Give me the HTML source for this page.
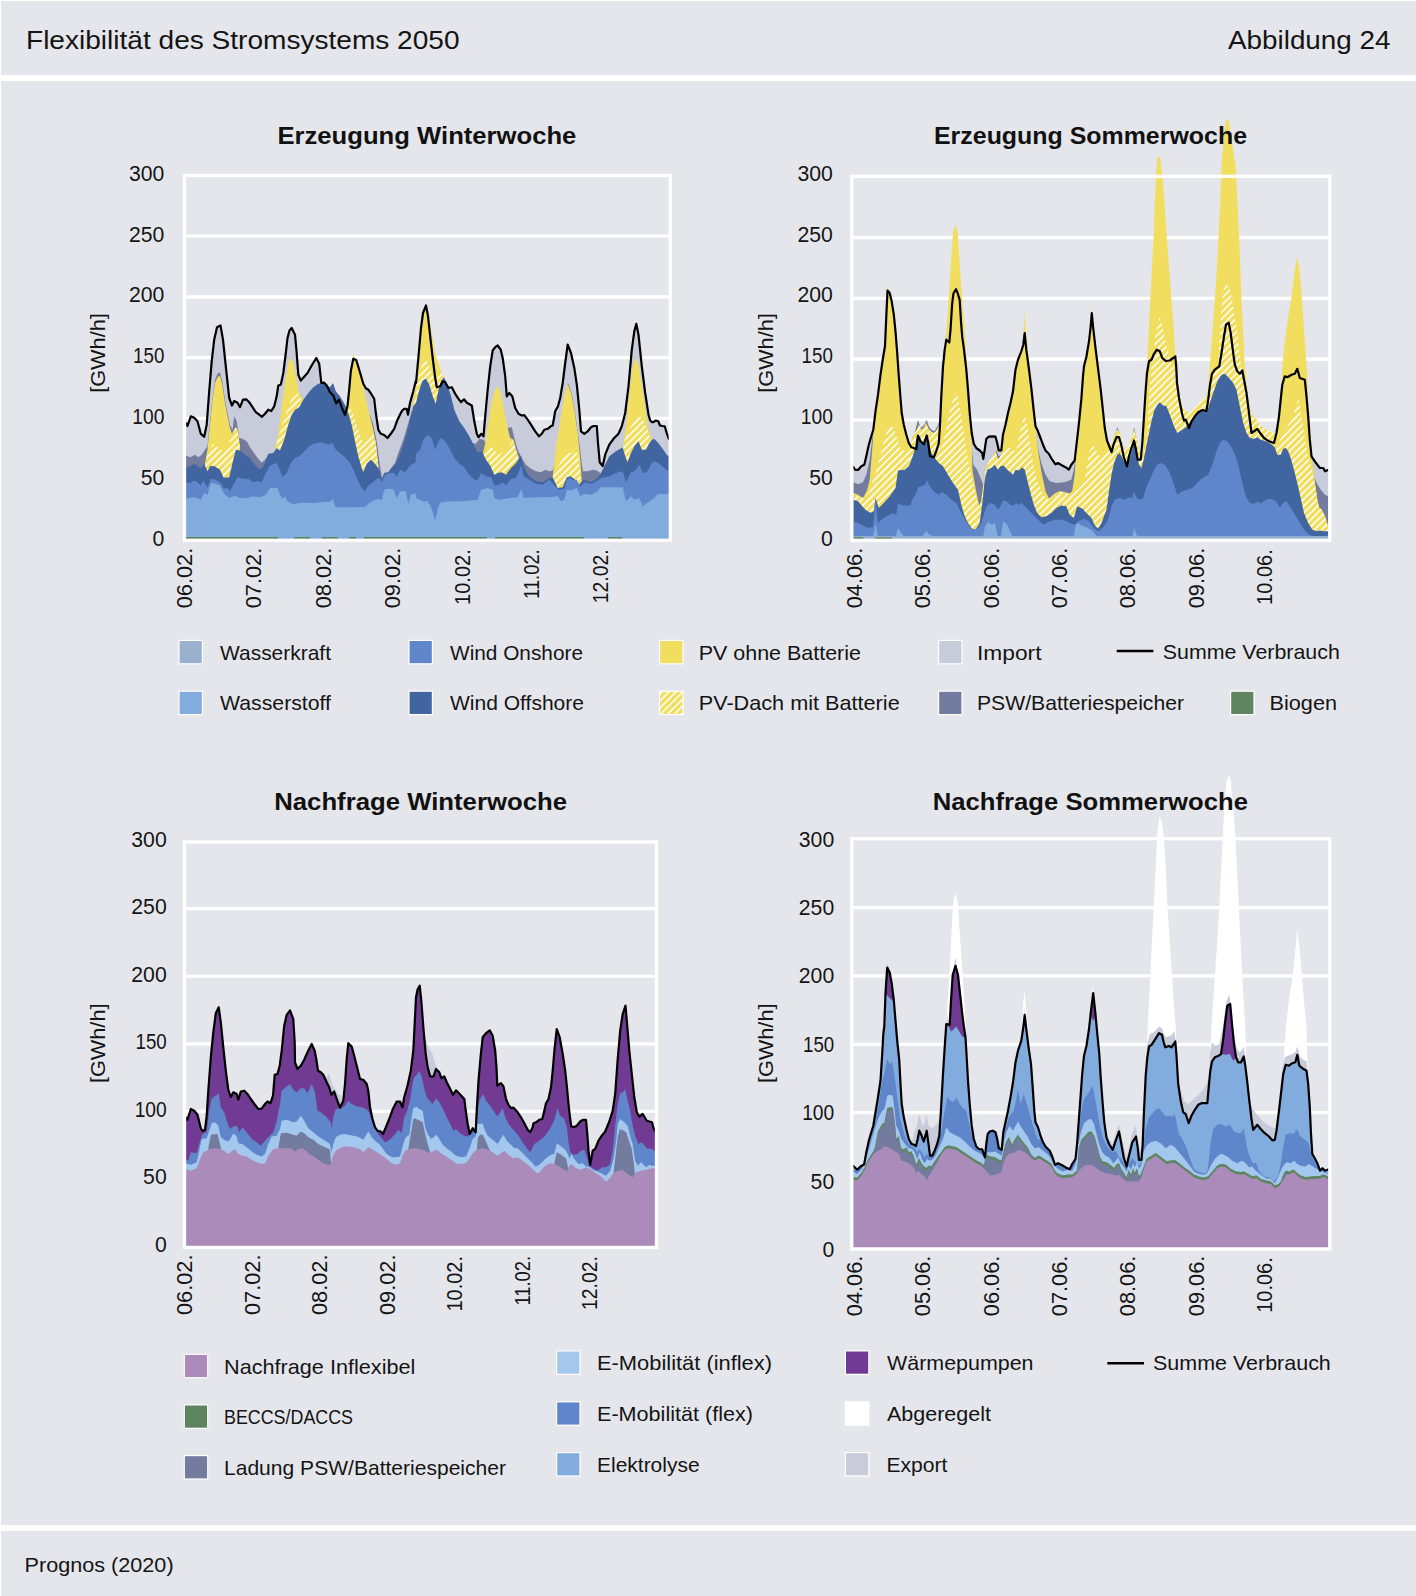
<!DOCTYPE html>
<html lang="de"><head><meta charset="utf-8"><title>Flexibilität des Stromsystems 2050</title>
<style>html,body{margin:0;padding:0;background:#fff}svg{display:block}</style></head>
<body>
<svg width="1416" height="1596" viewBox="0 0 1416 1596" font-family='"Liberation Sans", sans-serif' fill="#141414">
<rect width="1416" height="1596" fill="#fff"/>
<rect x="1" y="1" width="1415" height="74" fill="#e5e6eb"/>
<rect x="1" y="81" width="1415" height="1444" fill="#e5e6eb"/>
<rect x="1" y="1531" width="1415" height="65" fill="#e5e6eb"/>
<line x1="184.5" x2="670.3" y1="236.00" y2="236.00" stroke="#fff" stroke-width="3.2"/>
<line x1="184.5" x2="670.3" y1="296.80" y2="296.80" stroke="#fff" stroke-width="3.2"/>
<line x1="184.5" x2="670.3" y1="357.60" y2="357.60" stroke="#fff" stroke-width="3.2"/>
<line x1="184.5" x2="670.3" y1="418.40" y2="418.40" stroke="#fff" stroke-width="3.2"/>
<line x1="184.5" x2="670.3" y1="479.20" y2="479.20" stroke="#fff" stroke-width="3.2"/>
<path d="M186.0,423.1 187.5,426.0 190.8,416.3 194.2,417.7 197.5,421.3 200.8,433.8 204.2,436.7 206.7,424.7 209.2,391.3 211.7,361.3 214.2,339.7 217.0,327.2 220.5,325.5 223.0,339.7 225.8,366.3 229.2,398.0 232.0,405.5 234.2,401.0 237.5,402.7 240.0,407.2 243.0,399.7 246.3,399.3 249.2,402.2 252.5,407.2 255.8,412.2 259.2,414.7 262.0,416.8 265.0,413.8 268.3,409.7 271.3,411.0 274.2,406.3 276.7,396.3 278.3,385.5 280.8,384.7 283.3,373.0 285.8,353.0 287.5,338.0 289.5,330.5 291.7,328.0 295.0,334.7 296.7,353.0 298.3,374.7 300.8,380.5 304.2,376.7 307.5,373.0 311.7,365.5 316.3,358.0 319.2,363.8 321.3,383.0 324.2,382.7 326.7,385.5 330.0,392.2 333.3,395.5 336.2,403.3 338.8,399.7 341.7,407.2 345.0,414.7 347.5,406.3 349.2,389.7 350.8,371.3 353.3,358.8 356.2,360.0 359.2,369.7 363.3,383.8 365.8,388.3 368.3,389.7 371.7,394.7 374.2,398.8 375.8,413.0 378.3,429.7 380.8,433.8 384.2,435.0 387.5,438.0 390.8,433.8 394.2,428.8 397.5,419.7 401.7,411.3 404.2,408.8 406.7,408.8 408.0,414.7 410.0,403.0 413.3,391.3 415.7,381.3 416.0,383.0 418.5,356.3 421.0,328.0 423.0,313.0 426.0,305.5 428.0,316.3 430.2,336.3 432.7,358.0 435.2,378.0 436.8,387.2 440.2,386.3 442.7,381.3 445.2,382.2 448.5,388.0 451.8,387.2 455.2,393.8 458.5,398.8 461.0,402.2 464.0,399.3 466.8,402.7 471.8,405.5 474.3,421.3 476.8,433.8 478.5,437.2 481.3,433.8 483.5,436.3 485.2,416.3 487.7,389.7 490.2,366.3 492.7,350.5 495.2,347.2 497.7,345.5 500.7,349.7 502.7,358.0 505.2,376.3 506.8,396.3 509.3,393.0 512.3,396.3 515.2,408.0 518.5,413.8 521.8,415.5 524.3,415.2 527.7,419.7 531.0,424.7 535.2,431.3 539.0,436.3 541.8,433.8 544.3,429.7 547.7,428.8 550.7,426.3 552.7,425.5 555.2,411.3 558.0,406.3 560.2,398.0 562.7,383.0 565.2,363.0 567.7,344.7 571.0,353.0 574.3,368.0 576.8,384.7 579.3,409.7 581.0,431.3 584.3,433.8 587.7,431.3 591.0,427.2 593.5,426.0 596.8,426.0 598.0,443.0 599.7,462.2 602.7,466.0 605.2,454.7 609.3,444.7 613.5,438.8 618.5,433.8 621.8,426.3 625.2,413.0 628.5,386.3 631.8,349.7 634.3,331.3 636.3,323.8 638.5,334.7 641.8,366.3 645.2,393.0 648.5,414.7 650.2,420.5 652.0,422.2 653.3,422.2 655.8,420.5 658.3,421.3 660.0,425.5 662.5,426.0 664.7,426.3 666.7,433.0 668.8,438.8 L668.8,540.3 L186.0,540.3Z" fill="#c8ccda" />
<path d="M186.0,455.5 190.0,457.2 195.0,454.7 198.3,457.2 201.7,454.7 205.0,449.7 207.5,446.3 210.0,421.3 212.5,398.0 215.0,379.7 217.5,373.8 220.0,372.2 222.5,383.0 225.0,399.7 227.5,413.0 230.0,424.7 232.5,429.7 234.2,416.3 236.7,421.3 239.2,438.0 242.5,438.8 246.7,441.3 250.0,447.2 254.2,453.3 258.3,458.8 261.7,462.7 265.0,459.7 268.3,454.7 273.3,454.7 L273.3,540.3 L186.0,540.3Z" fill="#737c9f" />
<path d="M368.3,414.7 370.0,414.7 373.3,424.7 376.7,441.3 380.0,466.3 382.5,478.8 384.2,473.0 388.3,472.2 391.7,467.2 395.0,463.0 398.3,453.0 403.3,439.7 408.3,423.0 413.3,405.5 415.7,403.0 L415.7,540.3 L368.3,540.3Z" fill="#737c9f" />
<path d="M471.0,444.7 472.7,443.0 476.0,443.8 479.3,438.8 483.5,439.7 486.0,443.0 489.3,449.7 L489.3,540.3 L471.0,540.3Z" fill="#737c9f" />
<path d="M504.3,429.7 506.8,428.0 511.8,427.2 514.3,438.0 517.7,449.7 520.2,454.7 522.7,459.7 526.0,464.7 531.0,468.8 536.0,471.3 541.0,472.2 545.2,469.7 549.3,471.3 552.7,470.5 556.0,458.0 559.3,433.0 562.7,409.7 566.0,391.3 568.0,383.0 571.0,391.3 574.3,408.0 577.7,431.3 580.2,449.7 582.7,471.3 587.7,471.3 592.7,469.7 596.8,470.5 599.3,472.2 601.0,473.8 L601.0,540.3 L504.3,540.3Z" fill="#737c9f" />
<path d="M205.0,463.8 207.5,449.7 210.0,424.7 212.5,399.7 215.0,383.0 217.5,377.2 220.0,375.5 222.5,386.3 225.0,403.0 227.5,416.3 230.0,428.0 233.3,438.0 235.8,427.2 238.3,433.0 240.0,448.0 L240.0,540.3 L205.0,540.3Z" fill="#f2de5e" />
<path d="M275.0,448.0 278.3,433.0 281.7,408.0 285.0,383.0 288.3,363.0 290.8,357.2 293.3,363.0 295.8,376.3 298.3,389.7 300.8,396.3 303.3,399.7 L303.3,540.3 L275.0,540.3Z" fill="#f2de5e" />
<path d="M346.7,399.7 349.2,383.0 351.7,363.0 353.3,354.7 355.8,359.7 359.2,369.7 363.3,386.3 366.7,403.0 370.0,416.3 373.3,429.7 375.8,443.0 378.3,466.3 L378.3,540.3 L346.7,540.3Z" fill="#f2de5e" />
<path d="M412.2,411.3 413.8,398.0 415.7,383.0 416.0,383.0 418.5,356.3 421.0,328.0 423.0,313.0 426.0,305.5 428.5,316.3 431.3,329.7 433.5,343.0 435.3,354.3 437.3,360.0 439.3,365.2 442.3,375.0 444.3,378.0 L444.3,540.3 L412.2,540.3Z" fill="#f2de5e" />
<path d="M483.5,451.3 486.0,439.7 488.5,421.3 491.0,406.3 493.5,394.7 496.0,388.0 497.7,386.3 500.2,391.3 502.7,403.0 505.2,416.3 507.7,428.0 510.2,438.0 513.5,439.7 516.0,449.7 518.5,458.0 520.2,463.0 L520.2,540.3 L483.5,540.3Z" fill="#f2de5e" />
<path d="M552.7,476.3 556.8,441.3 561.0,416.3 564.3,396.3 567.7,383.8 571.0,393.0 574.3,409.7 577.7,433.0 580.2,458.0 581.8,481.3 L581.8,540.3 L552.7,540.3Z" fill="#f2de5e" />
<path d="M622.7,447.2 625.2,433.0 627.7,409.7 630.2,386.3 632.7,366.3 635.7,358.0 638.5,364.7 641.0,379.7 643.5,396.3 646.0,414.7 648.5,429.7 651.0,438.0 651.3,440.5 L651.3,540.3 L622.7,540.3Z" fill="#f2de5e" />
<clipPath id="hc1"><path d="M205.0,463.8 209.2,449.7 213.3,443.8 217.5,447.2 220.8,449.7 225.0,451.3 229.2,443.0 232.5,433.0 235.8,427.2 237.5,429.7 240.0,448.0 L240.0,540.3 L205.0,540.3Z M275.0,448.0 278.3,438.0 283.3,421.3 288.3,406.3 293.3,394.7 296.7,391.3 300.0,398.0 302.5,400.5 L302.5,540.3 L275.0,540.3Z M346.7,399.7 348.3,403.0 353.3,414.7 358.3,429.7 363.3,443.0 368.3,439.7 373.3,433.0 375.8,443.0 378.3,466.3 L378.3,540.3 L346.7,540.3Z M412.2,411.3 415.7,396.3 416.0,391.3 419.3,373.0 423.5,360.5 426.0,358.8 429.3,366.3 432.7,376.3 436.0,383.0 438.5,373.8 441.0,373.0 442.7,375.5 444.3,378.0 L444.3,540.3 L412.2,540.3Z M483.5,451.3 487.7,449.7 492.7,447.2 497.7,454.7 502.7,453.0 507.7,449.7 511.0,443.0 513.5,440.5 516.0,449.7 518.5,458.0 L518.5,540.3 L483.5,540.3Z M552.7,477.2 556.8,468.0 561.0,461.3 566.0,451.3 571.0,453.0 576.0,449.7 578.5,458.0 581.0,481.3 L581.0,540.3 L552.7,540.3Z M622.7,447.2 626.0,436.3 631.0,426.3 636.0,419.7 640.2,416.3 643.5,421.3 646.8,428.0 649.3,436.3 651.0,438.0 651.3,440.5 L651.3,540.3 L622.7,540.3Z"/></clipPath>
<g clip-path="url(#hc1)">
<rect x="186.0" y="290" width="482.79999999999995" height="250.29999999999995" fill="#f2de5e"/>
<path d="M186.0,285.2L668.8,-197.6M186.0,292.1L668.8,-190.7M186.0,299.0L668.8,-183.8M186.0,305.9L668.8,-176.9M186.0,312.8L668.8,-170.0M186.0,319.7L668.8,-163.1M186.0,326.6L668.8,-156.2M186.0,333.5L668.8,-149.3M186.0,340.4L668.8,-142.4M186.0,347.3L668.8,-135.5M186.0,354.2L668.8,-128.6M186.0,361.1L668.8,-121.7M186.0,368.0L668.8,-114.8M186.0,374.9L668.8,-107.9M186.0,381.8L668.8,-101.0M186.0,388.7L668.8,-94.1M186.0,395.6L668.8,-87.2M186.0,402.5L668.8,-80.3M186.0,409.4L668.8,-73.4M186.0,416.3L668.8,-66.5M186.0,423.2L668.8,-59.6M186.0,430.1L668.8,-52.7M186.0,437.0L668.8,-45.8M186.0,443.9L668.8,-38.9M186.0,450.8L668.8,-32.0M186.0,457.7L668.8,-25.1M186.0,464.6L668.8,-18.2M186.0,471.5L668.8,-11.3M186.0,478.4L668.8,-4.4M186.0,485.3L668.8,2.5M186.0,492.2L668.8,9.4M186.0,499.1L668.8,16.3M186.0,506.0L668.8,23.2M186.0,512.9L668.8,30.1M186.0,519.8L668.8,37.0M186.0,526.7L668.8,43.9M186.0,533.6L668.8,50.8M186.0,540.5L668.8,57.7M186.0,547.4L668.8,64.6M186.0,554.3L668.8,71.5M186.0,561.2L668.8,78.4M186.0,568.1L668.8,85.3M186.0,575.0L668.8,92.2M186.0,581.9L668.8,99.1M186.0,588.8L668.8,106.0M186.0,595.7L668.8,112.9M186.0,602.6L668.8,119.8M186.0,609.5L668.8,126.7M186.0,616.4L668.8,133.6M186.0,623.3L668.8,140.5M186.0,630.2L668.8,147.4M186.0,637.1L668.8,154.3M186.0,644.0L668.8,161.2M186.0,650.9L668.8,168.1M186.0,657.8L668.8,175.0M186.0,664.7L668.8,181.9M186.0,671.6L668.8,188.8M186.0,678.5L668.8,195.7M186.0,685.4L668.8,202.6M186.0,692.3L668.8,209.5M186.0,699.2L668.8,216.4M186.0,706.1L668.8,223.3M186.0,713.0L668.8,230.2M186.0,719.9L668.8,237.1M186.0,726.8L668.8,244.0M186.0,733.7L668.8,250.9M186.0,740.6L668.8,257.8M186.0,747.5L668.8,264.7M186.0,754.4L668.8,271.6M186.0,761.3L668.8,278.5M186.0,768.2L668.8,285.4M186.0,775.1L668.8,292.3M186.0,782.0L668.8,299.2M186.0,788.9L668.8,306.1M186.0,795.8L668.8,313.0M186.0,802.7L668.8,319.9M186.0,809.6L668.8,326.8M186.0,816.5L668.8,333.7M186.0,823.4L668.8,340.6M186.0,830.3L668.8,347.5M186.0,837.2L668.8,354.4M186.0,844.1L668.8,361.3M186.0,851.0L668.8,368.2M186.0,857.9L668.8,375.1M186.0,864.8L668.8,382.0M186.0,871.7L668.8,388.9M186.0,878.6L668.8,395.8M186.0,885.5L668.8,402.7M186.0,892.4L668.8,409.6M186.0,899.3L668.8,416.5M186.0,906.2L668.8,423.4M186.0,913.1L668.8,430.3M186.0,920.0L668.8,437.2M186.0,926.9L668.8,444.1M186.0,933.8L668.8,451.0M186.0,940.7L668.8,457.9M186.0,947.6L668.8,464.8M186.0,954.5L668.8,471.7M186.0,961.4L668.8,478.6M186.0,968.3L668.8,485.5M186.0,975.2L668.8,492.4M186.0,982.1L668.8,499.3M186.0,989.0L668.8,506.2M186.0,995.9L668.8,513.1M186.0,1002.8L668.8,520.0M186.0,1009.7L668.8,526.9M186.0,1016.6L668.8,533.8" stroke="#fff" stroke-width="1.5" fill="none"/>
</g>
<path d="M186.0,467.2 190.0,466.3 194.2,463.8 197.5,466.3 200.8,468.8 204.2,463.8 207.5,471.3 210.0,466.3 214.2,466.0 220.0,469.7 223.7,477.7 229.2,477.2 232.5,463.0 235.8,449.7 240.0,450.5 245.0,454.7 250.0,458.0 253.3,463.0 258.3,468.8 261.7,468.8 265.0,463.0 268.3,453.8 273.3,453.0 276.7,448.0 280.0,450.5 284.2,439.7 288.3,424.7 291.7,414.7 295.0,409.7 299.2,407.2 303.3,399.7 308.3,393.0 313.3,387.2 318.3,383.8 323.3,383.0 326.7,384.7 330.0,387.2 333.0,383.0 335.8,391.3 340.0,396.3 345.0,404.7 348.3,413.0 351.7,424.7 355.0,441.3 358.3,456.3 361.7,468.0 363.3,472.2 366.7,463.8 370.8,459.7 374.2,463.0 378.3,468.0 381.7,479.7 384.2,473.0 388.3,472.2 391.7,468.0 395.8,463.8 399.2,456.3 403.3,444.7 406.7,433.0 410.8,416.3 413.3,406.3 415.7,403.3 416.0,403.0 419.3,389.7 422.7,380.5 426.0,378.8 429.3,384.7 432.7,396.3 435.7,403.8 438.5,389.7 441.0,381.3 444.0,377.2 446.8,383.0 451.0,396.3 454.3,409.7 459.3,421.3 464.3,428.0 469.3,436.3 474.3,446.3 477.7,452.2 481.8,451.3 486.0,459.7 490.2,465.5 494.3,474.7 497.7,473.0 501.8,472.2 506.0,474.7 511.0,468.0 516.0,463.0 519.3,458.0 521.3,456.3 523.5,465.5 526.0,471.3 529.3,476.3 536.0,481.3 542.7,482.2 549.3,478.0 552.7,477.2 557.7,488.0 562.7,487.2 566.8,477.2 570.2,476.3 574.3,478.8 578.5,485.5 581.0,482.2 584.3,479.7 591.0,482.2 597.7,478.0 601.0,473.0 604.3,466.3 609.3,456.3 616.0,451.3 622.7,447.2 625.2,456.3 627.7,462.2 630.2,454.7 634.3,446.3 638.5,441.3 641.8,449.7 646.0,449.7 649.3,443.0 652.0,439.7 654.2,438.8 658.3,443.0 663.3,449.7 666.7,454.7 668.8,456.3 L668.8,540.3 L186.0,540.3Z" fill="#4065a1" />
<path d="M186.0,482.2 190.0,483.0 194.2,480.5 197.5,482.2 200.8,485.5 203.3,480.5 207.5,488.0 210.8,478.8 215.8,479.7 220.8,483.0 224.2,488.8 227.5,488.0 230.0,491.3 233.3,484.7 237.5,477.2 243.3,478.8 248.3,478.8 253.3,482.2 258.3,481.3 261.7,482.2 265.8,473.0 270.0,465.5 276.7,463.0 280.0,470.5 282.5,477.2 286.7,473.0 290.8,463.0 295.0,458.0 299.2,456.3 303.3,452.2 308.3,447.2 313.3,443.8 321.7,442.2 328.3,444.7 332.5,442.7 335.8,449.7 340.0,453.0 345.0,457.2 350.0,463.0 354.2,471.3 358.3,481.3 361.7,488.0 365.0,491.3 368.3,485.5 373.3,482.2 377.5,478.0 380.0,478.8 382.0,482.2 385.0,474.7 390.0,473.0 394.2,473.0 396.7,477.2 400.0,469.7 405.0,472.2 410.0,465.5 415.7,462.2 416.0,453.8 420.2,449.7 423.5,439.7 427.7,434.7 431.8,438.0 435.2,449.7 438.5,441.3 441.0,438.0 445.2,441.3 449.3,448.0 454.3,458.0 459.3,463.8 464.3,467.2 469.3,474.7 474.3,479.7 477.7,480.5 481.0,473.0 486.0,476.3 491.0,477.2 494.3,485.5 499.3,484.7 502.7,482.2 506.0,485.5 511.0,478.8 516.0,478.0 518.5,473.0 521.3,464.7 523.5,476.3 529.3,479.7 536.0,483.8 542.7,484.7 549.3,479.7 554.3,485.5 559.3,489.7 564.3,488.8 566.8,479.7 569.3,478.0 574.3,480.5 576.8,479.7 580.2,487.2 584.3,482.2 591.0,483.8 597.7,480.5 601.0,478.0 609.3,476.3 616.0,473.0 622.7,471.3 626.0,482.2 631.0,472.2 634.3,471.3 639.3,464.7 642.7,473.0 646.8,472.2 652.0,463.0 654.2,461.3 658.3,463.0 663.3,467.2 668.8,471.3 L668.8,540.3 L186.0,540.3Z" fill="#5f86ca" />
<path d="M186.0,498.8 193.3,497.2 196.7,498.0 200.8,499.7 204.2,493.0 207.5,494.7 210.8,483.0 215.8,483.8 220.0,485.5 224.2,493.8 229.2,498.0 235.0,495.5 240.0,498.0 246.7,498.0 253.3,496.3 260.0,497.2 265.8,494.7 270.0,488.0 277.5,487.7 280.0,494.7 282.5,498.8 285.0,496.3 287.5,501.3 293.3,504.3 300.0,502.7 306.7,502.7 313.3,503.0 321.7,502.2 330.0,501.7 332.5,498.8 335.8,507.2 346.7,507.2 355.0,507.2 365.0,506.7 369.2,503.0 373.3,500.5 379.2,498.8 381.7,500.5 384.2,489.7 387.5,488.8 393.3,489.3 395.0,493.0 396.7,498.8 400.0,491.3 405.8,491.3 408.3,503.8 410.8,494.7 415.7,493.3 416.0,498.0 422.7,501.3 427.7,501.3 431.0,507.2 435.2,520.5 438.5,506.3 441.0,502.2 449.3,501.3 462.7,501.3 477.7,499.7 481.0,489.7 487.7,488.0 492.7,489.7 494.3,498.0 499.3,499.7 509.3,498.0 517.7,497.2 521.3,488.8 523.5,498.0 532.7,497.2 549.3,497.2 557.7,496.3 561.0,501.3 564.3,499.7 566.8,489.7 571.0,490.5 576.8,488.0 580.2,496.3 584.3,493.8 591.0,494.7 597.7,491.3 600.2,487.2 609.3,487.2 622.7,487.2 626.0,501.3 631.0,496.3 634.3,499.7 639.3,498.0 642.7,506.3 646.0,503.8 652.0,499.7 654.2,498.0 657.5,494.3 668.8,493.8 L668.8,540.3 L186.0,540.3Z" fill="#82abde" />
<rect x="186" y="537.0" width="92" height="3.3" fill="#5f8560"/>
<rect x="294" y="537.0" width="16" height="3.3" fill="#5f8560"/>
<rect x="322" y="537.0" width="16" height="3.3" fill="#5f8560"/>
<rect x="349" y="537.0" width="7" height="3.3" fill="#5f8560"/>
<rect x="364" y="537.0" width="123" height="3.3" fill="#5f8560"/>
<rect x="495" y="537.0" width="89" height="3.3" fill="#5f8560"/>
<rect x="608" y="537.0" width="14" height="3.3" fill="#5f8560"/>
<path d="M186.0,423.1 187.5,426.0 190.8,416.3 194.2,417.7 197.5,421.3 200.8,433.8 204.2,436.7 206.7,424.7 209.2,391.3 211.7,361.3 214.2,339.7 217.0,327.2 220.5,325.5 223.0,339.7 225.8,366.3 229.2,398.0 232.0,405.5 234.2,401.0 237.5,402.7 240.0,407.2 243.0,399.7 246.3,399.3 249.2,402.2 252.5,407.2 255.8,412.2 259.2,414.7 262.0,416.8 265.0,413.8 268.3,409.7 271.3,411.0 274.2,406.3 276.7,396.3 278.3,385.5 280.8,384.7 283.3,373.0 285.8,353.0 287.5,338.0 289.5,330.5 291.7,328.0 295.0,334.7 296.7,353.0 298.3,374.7 300.8,380.5 304.2,376.7 307.5,373.0 311.7,365.5 316.3,358.0 319.2,363.8 321.3,383.0 324.2,382.7 326.7,385.5 330.0,392.2 333.3,395.5 336.2,403.3 338.8,399.7 341.7,407.2 345.0,414.7 347.5,406.3 349.2,389.7 350.8,371.3 353.3,358.8 356.2,360.0 359.2,369.7 363.3,383.8 365.8,388.3 368.3,389.7 371.7,394.7 374.2,398.8 375.8,413.0 378.3,429.7 380.8,433.8 384.2,435.0 387.5,438.0 390.8,433.8 394.2,428.8 397.5,419.7 401.7,411.3 404.2,408.8 406.7,408.8 408.0,414.7 410.0,403.0 413.3,391.3 415.7,381.3 416.0,383.0 418.5,356.3 421.0,328.0 423.0,313.0 426.0,305.5 428.0,316.3 430.2,336.3 432.7,358.0 435.2,378.0 436.8,387.2 440.2,386.3 442.7,381.3 445.2,382.2 448.5,388.0 451.8,387.2 455.2,393.8 458.5,398.8 461.0,402.2 464.0,399.3 466.8,402.7 471.8,405.5 474.3,421.3 476.8,433.8 478.5,437.2 481.3,433.8 483.5,436.3 485.2,416.3 487.7,389.7 490.2,366.3 492.7,350.5 495.2,347.2 497.7,345.5 500.7,349.7 502.7,358.0 505.2,376.3 506.8,396.3 509.3,393.0 512.3,396.3 515.2,408.0 518.5,413.8 521.8,415.5 524.3,415.2 527.7,419.7 531.0,424.7 535.2,431.3 539.0,436.3 541.8,433.8 544.3,429.7 547.7,428.8 550.7,426.3 552.7,425.5 555.2,411.3 558.0,406.3 560.2,398.0 562.7,383.0 565.2,363.0 567.7,344.7 571.0,353.0 574.3,368.0 576.8,384.7 579.3,409.7 581.0,431.3 584.3,433.8 587.7,431.3 591.0,427.2 593.5,426.0 596.8,426.0 598.0,443.0 599.7,462.2 602.7,466.0 605.2,454.7 609.3,444.7 613.5,438.8 618.5,433.8 621.8,426.3 625.2,413.0 628.5,386.3 631.8,349.7 634.3,331.3 636.3,323.8 638.5,334.7 641.8,366.3 645.2,393.0 648.5,414.7 650.2,420.5 652.0,422.2 653.3,422.2 655.8,420.5 658.3,421.3 660.0,425.5 662.5,426.0 664.7,426.3 666.7,433.0 668.8,438.8" fill="none" stroke="#000" stroke-width="2.2" stroke-linejoin="round" stroke-linecap="round"/>
<rect x="184.5" y="175.5" width="485.79999999999995" height="364.80" fill="none" stroke="#fff" stroke-width="3.3"/>
<text x="164.3" y="180.8" font-size="21.2" text-anchor="end">300</text>
<text x="164.3" y="241.6" font-size="21.2" text-anchor="end">250</text>
<text x="164.3" y="302.4" font-size="21.2" text-anchor="end">200</text>
<text x="164.3" y="363.2" font-size="21.2" textLength="31.2" lengthAdjust="spacingAndGlyphs" text-anchor="end">150</text>
<text x="164.3" y="424.0" font-size="21.2" textLength="32.0" lengthAdjust="spacingAndGlyphs" text-anchor="end">100</text>
<text x="164.3" y="484.8" font-size="21.2" text-anchor="end">50</text>
<text x="164.3" y="545.6" font-size="21.2" text-anchor="end">0</text>
<text x="192.0" y="547.8" font-size="22" textLength="60.5" lengthAdjust="spacingAndGlyphs" text-anchor="end" transform="rotate(-90 192.0 547.8)">06.02.</text>
<text x="261.4" y="547.8" font-size="22" textLength="60.5" lengthAdjust="spacingAndGlyphs" text-anchor="end" transform="rotate(-90 261.4 547.8)">07.02.</text>
<text x="330.8" y="547.8" font-size="22" textLength="60.5" lengthAdjust="spacingAndGlyphs" text-anchor="end" transform="rotate(-90 330.8 547.8)">08.02.</text>
<text x="400.2" y="547.8" font-size="22" textLength="60.5" lengthAdjust="spacingAndGlyphs" text-anchor="end" transform="rotate(-90 400.2 547.8)">09.02.</text>
<text x="469.6" y="549.3" font-size="22" textLength="55.6" lengthAdjust="spacingAndGlyphs" text-anchor="end" transform="rotate(-90 469.6 549.3)">10.02.</text>
<text x="539.0" y="549.3" font-size="22" textLength="49.6" lengthAdjust="spacingAndGlyphs" text-anchor="end" transform="rotate(-90 539.0 549.3)">11.02.</text>
<text x="608.4" y="549.3" font-size="22" textLength="54.0" lengthAdjust="spacingAndGlyphs" text-anchor="end" transform="rotate(-90 608.4 549.3)">12.02.</text>
<text x="105.5" y="392.8" font-size="20.5" textLength="79.6" lengthAdjust="spacingAndGlyphs" transform="rotate(-90 105.5 392.8)">[GWh/h]</text>
<line x1="851.8" x2="1329.8" y1="237.60" y2="237.60" stroke="#fff" stroke-width="3.2"/>
<line x1="851.8" x2="1329.8" y1="298.40" y2="298.40" stroke="#fff" stroke-width="3.2"/>
<line x1="851.8" x2="1329.8" y1="359.20" y2="359.20" stroke="#fff" stroke-width="3.2"/>
<line x1="851.8" x2="1329.8" y1="420.00" y2="420.00" stroke="#fff" stroke-width="3.2"/>
<line x1="851.8" x2="1329.8" y1="480.80" y2="480.80" stroke="#fff" stroke-width="3.2"/>
<path d="M853.3,466.8 855.0,469.7 858.0,470.0 861.3,466.3 864.3,464.7 866.3,456.3 868.8,444.7 871.3,436.3 873.3,429.7 875.5,411.3 878.0,394.7 880.5,374.7 883.0,358.0 885.0,346.3 886.3,316.3 887.5,290.5 889.7,293.0 891.7,301.3 893.8,314.7 895.5,331.3 897.2,353.0 898.8,376.3 900.5,398.0 901.7,413.0 903.8,424.7 906.3,434.7 908.8,443.0 911.3,447.2 913.8,448.0 916.3,449.3 918.0,435.5 920.5,441.3 923.8,444.3 926.7,435.5 928.3,443.0 930.0,456.3 933.8,457.2 936.3,451.3 938.8,443.0 940.0,424.7 941.3,396.3 943.0,366.3 944.7,349.7 946.3,339.7 949.3,342.5 950.5,330.0 952.2,303.3 953.5,293.3 956.0,289.2 958.0,294.2 959.7,300.0 961.0,321.7 962.2,336.7 963.8,348.0 966.3,369.7 968.0,389.7 969.7,413.0 971.7,433.0 973.8,443.8 976.3,448.0 979.7,450.5 982.2,453.0 983.3,458.8 984.7,449.7 986.3,438.8 988.8,436.7 992.2,436.3 995.5,436.7 997.2,443.0 998.8,450.5 1001.3,450.5 1003.0,434.7 1005.5,424.7 1008.0,413.0 1010.5,403.0 1013.0,391.3 1015.5,369.7 1018.0,359.7 1021.3,351.3 1023.3,344.7 1024.7,333.0 1026.3,349.7 1028.8,368.0 1031.3,388.0 1033.8,411.3 1035.5,426.3 1038.0,431.3 1040.5,438.0 1043.0,444.7 1045.5,450.5 1048.8,453.8 1052.2,459.7 1055.5,464.3 1058.0,463.0 1061.3,465.0 1065.5,467.2 1068.8,469.7 1071.3,464.7 1074.7,460.5 1076.3,446.3 1078.8,424.7 1081.3,399.7 1083.0,376.3 1084.0,366.3 1086.5,356.3 1089.0,341.3 1090.7,326.3 1091.8,313.0 1093.2,328.0 1095.7,349.7 1098.2,369.7 1100.7,389.7 1103.2,413.0 1104.8,428.0 1107.0,440.5 1109.0,445.5 1111.5,452.2 1114.0,443.0 1116.5,437.2 1119.0,437.2 1121.0,443.8 1124.0,458.0 1127.0,466.3 1129.0,456.3 1131.5,448.0 1134.0,440.5 1135.7,448.0 1137.7,459.7 1140.7,459.7 1142.3,443.0 1144.0,416.3 1145.7,389.7 1147.0,373.0 1149.0,361.3 1151.5,359.7 1154.0,353.8 1156.8,349.7 1159.8,351.3 1162.3,358.0 1165.7,361.0 1169.8,360.5 1173.2,358.0 1175.3,356.3 1176.2,366.3 1177.0,383.0 1179.0,398.0 1182.3,414.7 1184.0,420.5 1185.7,419.7 1189.0,428.0 1191.5,421.3 1194.8,416.3 1198.2,412.2 1202.3,410.0 1206.5,411.0 1208.2,399.7 1209.8,386.3 1212.0,373.8 1214.8,369.7 1219.3,366.3 1221.5,353.0 1224.0,336.3 1226.0,324.7 1228.7,322.7 1230.7,333.0 1233.2,353.0 1234.8,364.7 1237.3,371.3 1239.8,373.8 1242.3,370.5 1244.3,381.3 1246.5,393.0 1249.0,413.0 1251.5,433.0 1254.0,431.3 1257.3,428.8 1260.7,433.8 1264.0,438.0 1269.0,441.3 1274.0,443.0 1276.5,433.0 1279.0,416.3 1280.7,399.7 1282.3,384.7 1284.8,376.3 1287.3,377.2 1291.5,374.7 1294.8,373.8 1297.3,368.8 1299.8,378.0 1304.8,379.7 1306.5,396.3 1308.2,416.3 1309.8,439.7 1311.5,456.3 1314.8,461.3 1317.3,464.7 1320.0,468.0 1320.8,468.0 1323.3,468.0 1325.0,471.3 1328.0,470.0 1328.3,470.0 L1328.3,540.3 L853.3,540.3Z" fill="#c8ccda" />
<path d="M853.3,482.3 858.0,484.3 863.0,482.2 866.3,474.7 869.7,459.7 873.0,433.0 L873.0,540.3 L853.3,540.3Z" fill="#737c9f" />
<path d="M912.2,438.0 914.7,433.0 918.0,419.7 920.5,428.0 923.8,425.5 926.7,419.7 928.8,426.3 931.3,429.7 934.7,431.3 938.0,424.7 939.7,419.7 L939.7,540.3 L912.2,540.3Z" fill="#737c9f" />
<path d="M972.2,449.7 973.3,464.7 977.2,469.7 980.5,478.0 983.3,484.7 L983.3,540.3 L972.2,540.3Z" fill="#737c9f" />
<path d="M993.8,454.7 996.3,450.5 998.8,456.3 1001.3,454.7 1003.0,449.7 L1003.0,540.3 L993.8,540.3Z" fill="#737c9f" />
<path d="M1035.5,429.7 1038.0,448.0 1041.3,463.0 1045.5,474.7 1049.7,481.3 1056.3,483.0 1064.7,482.2 1071.3,479.7 1073.8,469.7 1075.5,458.0 L1075.5,540.3 L1035.5,540.3Z" fill="#737c9f" />
<path d="M1114.8,434.7 1117.3,427.2 1119.8,433.0 L1119.8,540.3 L1114.8,540.3Z" fill="#737c9f" />
<path d="M1132.3,436.3 1134.3,427.2 1136.5,438.0 L1136.5,540.3 L1132.3,540.3Z" fill="#737c9f" />
<path d="M1311.7,459.7 1313.3,474.7 1316.7,483.0 1320.8,489.7 1325.0,494.7 1328.0,496.3 L1328.0,540.3 L1311.7,540.3Z" fill="#737c9f" />
<path d="M853.3,493.1 858.0,494.7 863.0,498.0 867.2,489.7 869.7,479.7 872.2,449.7 873.8,429.7 875.5,411.3 878.0,394.7 880.5,374.7 883.0,358.0 885.0,346.3 886.3,316.3 887.5,285.5 889.7,293.0 891.7,301.3 893.8,314.7 895.5,331.3 897.2,353.0 898.8,376.3 900.5,398.0 901.7,413.0 903.8,424.7 906.3,434.7 908.8,441.3 911.3,443.0 914.7,433.0 917.2,429.7 918.8,424.7 921.3,429.7 923.8,428.0 926.0,423.0 928.0,428.0 930.5,431.3 933.8,433.0 936.3,431.3 938.8,424.7 940.0,423.0 941.3,396.3 943.0,366.3 944.7,349.7 946.3,333.3 948.0,308.3 949.7,283.3 951.3,258.3 953.0,233.3 954.7,226.7 955.8,225.0 957.7,233.3 959.3,258.3 961.0,283.3 963.0,308.3 964.7,333.3 966.7,360.0 967.2,369.7 968.8,391.3 970.2,414.7 971.2,433.0 971.7,449.7 972.3,469.2 975.7,489.0 979.2,505.8 981.3,501.3 983.5,484.0 985.7,468.0 989.7,459.7 993.0,456.3 995.5,451.3 998.0,459.7 1000.5,456.3 1002.3,449.7 1003.0,434.7 1005.5,424.7 1008.0,413.0 1010.5,403.0 1013.0,391.3 1015.5,369.7 1018.0,359.7 1021.3,351.3 1023.3,344.7 1024.3,310.8 1026.0,333.0 1028.0,353.0 1030.5,376.3 1033.0,399.7 1035.5,426.3 1038.0,449.7 1041.3,471.3 1045.5,491.3 1049.7,499.7 1054.7,493.8 1059.7,491.3 1064.7,492.2 1069.7,493.8 1072.2,491.3 1074.7,474.7 1076.3,449.7 1078.8,424.7 1081.3,399.7 1083.0,376.3 1084.0,366.3 1086.5,356.3 1089.0,341.3 1090.7,326.3 1091.5,306.3 1093.2,328.0 1095.7,349.7 1098.2,369.7 1100.7,389.7 1103.2,413.0 1104.8,428.0 1107.0,440.5 1109.0,445.5 1111.5,443.0 1114.8,434.7 1117.3,429.7 1119.8,433.0 1123.2,446.3 1126.5,451.3 1129.8,443.0 1132.3,436.3 1134.3,429.7 1136.5,438.0 1139.0,449.7 1141.5,458.0 1142.3,443.0 1144.0,416.3 1145.7,389.7 1147.0,373.0 1147.8,349.7 1148.7,333.3 1150.3,300.0 1152.0,266.7 1153.7,233.3 1154.8,200.0 1156.0,175.0 1157.3,157.5 1158.2,156.7 1160.3,158.3 1162.3,175.0 1164.3,200.0 1166.5,233.3 1169.0,266.7 1171.5,300.0 1174.0,333.3 1176.0,366.0 1177.3,374.7 1179.8,396.3 1182.3,407.2 1185.7,411.3 1189.0,413.0 1192.3,409.7 1197.3,404.7 1202.3,399.7 1206.5,396.3 1208.2,386.3 1209.8,366.0 1212.3,333.3 1214.8,300.0 1217.0,266.7 1218.7,233.3 1220.3,200.0 1221.5,166.7 1224.0,133.3 1225.7,121.7 1228.2,118.3 1230.7,133.3 1233.2,150.0 1235.7,166.7 1237.3,200.0 1239.0,233.3 1240.3,266.7 1241.5,300.0 1243.2,333.3 1244.8,366.0 1246.5,383.0 1249.0,403.0 1251.5,414.7 1255.7,418.0 1259.0,424.7 1264.0,428.0 1269.0,431.3 1274.0,433.8 1276.5,429.7 1279.0,409.7 1281.5,383.0 1282.3,366.0 1284.8,341.7 1288.2,316.7 1291.5,296.7 1294.0,276.7 1296.0,263.3 1297.3,256.7 1299.0,266.7 1300.7,283.3 1302.7,308.3 1304.3,333.3 1306.5,366.0 1307.3,374.7 1308.2,416.3 1309.8,439.7 1311.5,456.3 1314.0,474.7 1317.3,499.7 1319.0,507.2 1321.7,509.7 1325.0,516.3 1328.0,526.3 1328.3,526.3 L1328.3,540.3 L853.3,540.3Z" fill="#f2de5e" />
<clipPath id="hc2"><path d="M853.3,493.2 859.7,497.2 864.7,498.0 869.7,491.3 874.7,474.7 879.7,458.0 883.8,441.3 887.2,429.7 891.3,424.7 894.7,429.7 898.0,441.3 901.3,449.7 906.3,451.3 910.5,446.3 912.2,438.0 914.7,433.0 917.2,429.7 918.8,424.7 921.3,429.7 923.8,428.0 926.0,423.0 928.0,428.0 930.5,431.3 933.8,433.0 936.3,431.3 938.8,424.7 940.5,451.3 943.8,438.0 947.2,423.0 950.5,408.0 953.8,394.7 955.5,392.2 958.0,398.0 961.3,416.3 964.7,438.0 967.7,458.0 970.5,471.3 973.8,486.3 977.2,501.3 979.2,506.7 981.3,501.3 983.5,484.0 985.7,468.0 989.7,459.7 993.0,456.3 995.5,451.3 998.0,459.7 1000.5,456.3 1003.0,449.7 1008.0,446.3 1013.0,451.3 1016.3,449.7 1019.7,433.0 1023.0,419.7 1025.0,416.3 1027.2,426.3 1029.7,441.3 1032.2,458.0 1034.7,471.3 1038.0,483.0 1043.0,494.7 1048.0,499.7 1054.7,493.8 1059.7,491.3 1064.7,492.2 1069.7,493.8 1072.2,491.3 1078.0,489.7 1083.7,483.0 1084.0,483.0 1087.3,463.0 1091.5,443.0 1095.7,449.7 1100.7,458.0 1105.7,453.0 1109.0,448.0 1111.5,443.0 1114.8,434.7 1117.3,429.7 1119.8,433.0 1123.2,446.3 1126.5,451.3 1129.8,443.0 1132.3,436.3 1134.3,429.7 1136.5,438.0 1139.0,449.7 1141.5,458.0 1144.8,449.7 1147.3,433.0 1149.0,399.7 1151.5,366.0 1154.0,350.0 1155.7,333.3 1159.8,316.7 1162.3,325.0 1165.7,341.7 1169.0,355.0 1172.3,366.0 1175.3,369.7 1177.3,383.0 1179.8,398.0 1182.3,408.0 1185.7,411.3 1189.0,413.0 1192.3,409.7 1197.3,404.7 1202.3,399.7 1206.5,396.3 1208.2,389.7 1210.7,373.0 1218.2,366.0 1219.8,333.3 1221.5,308.3 1223.2,291.7 1225.7,283.3 1229.8,288.3 1232.3,300.0 1234.8,316.7 1237.3,333.3 1239.8,358.0 1241.5,366.3 1244.0,376.3 1246.5,389.7 1249.0,406.3 1251.5,416.3 1255.7,418.0 1259.0,424.7 1264.0,428.0 1269.0,431.3 1274.0,433.8 1275.8,449.7 1280.0,439.7 1286.7,428.0 1293.3,416.3 1296.7,403.0 1298.7,399.7 1300.8,413.0 1304.2,433.0 1307.5,454.7 1310.8,466.3 1313.3,474.7 1317.3,499.7 1319.0,507.2 1321.7,509.7 1325.0,516.3 1328.0,526.3 1328.3,526.3 L1328.3,540.3 L853.3,540.3Z"/></clipPath>
<g clip-path="url(#hc2)">
<rect x="853.3" y="280" width="475.0" height="260.29999999999995" fill="#f2de5e"/>
<path d="M853.3,280.3L1328.3,-194.7M853.3,287.2L1328.3,-187.8M853.3,294.1L1328.3,-180.9M853.3,301.0L1328.3,-174.0M853.3,307.9L1328.3,-167.1M853.3,314.8L1328.3,-160.2M853.3,321.7L1328.3,-153.3M853.3,328.6L1328.3,-146.4M853.3,335.5L1328.3,-139.5M853.3,342.4L1328.3,-132.6M853.3,349.3L1328.3,-125.7M853.3,356.2L1328.3,-118.8M853.3,363.1L1328.3,-111.9M853.3,370.0L1328.3,-105.0M853.3,376.9L1328.3,-98.1M853.3,383.8L1328.3,-91.2M853.3,390.7L1328.3,-84.3M853.3,397.6L1328.3,-77.4M853.3,404.5L1328.3,-70.5M853.3,411.4L1328.3,-63.6M853.3,418.3L1328.3,-56.7M853.3,425.2L1328.3,-49.8M853.3,432.1L1328.3,-42.9M853.3,439.0L1328.3,-36.0M853.3,445.9L1328.3,-29.1M853.3,452.8L1328.3,-22.2M853.3,459.7L1328.3,-15.3M853.3,466.6L1328.3,-8.4M853.3,473.5L1328.3,-1.5M853.3,480.4L1328.3,5.4M853.3,487.3L1328.3,12.3M853.3,494.2L1328.3,19.2M853.3,501.1L1328.3,26.1M853.3,508.0L1328.3,33.0M853.3,514.9L1328.3,39.9M853.3,521.8L1328.3,46.8M853.3,528.7L1328.3,53.7M853.3,535.6L1328.3,60.6M853.3,542.5L1328.3,67.5M853.3,549.4L1328.3,74.4M853.3,556.3L1328.3,81.3M853.3,563.2L1328.3,88.2M853.3,570.1L1328.3,95.1M853.3,577.0L1328.3,102.0M853.3,583.9L1328.3,108.9M853.3,590.8L1328.3,115.8M853.3,597.7L1328.3,122.7M853.3,604.6L1328.3,129.6M853.3,611.5L1328.3,136.5M853.3,618.4L1328.3,143.4M853.3,625.3L1328.3,150.3M853.3,632.2L1328.3,157.2M853.3,639.1L1328.3,164.1M853.3,646.0L1328.3,171.0M853.3,652.9L1328.3,177.9M853.3,659.8L1328.3,184.8M853.3,666.7L1328.3,191.7M853.3,673.6L1328.3,198.6M853.3,680.5L1328.3,205.5M853.3,687.4L1328.3,212.4M853.3,694.3L1328.3,219.3M853.3,701.2L1328.3,226.2M853.3,708.1L1328.3,233.1M853.3,715.0L1328.3,240.0M853.3,721.9L1328.3,246.9M853.3,728.8L1328.3,253.8M853.3,735.7L1328.3,260.7M853.3,742.6L1328.3,267.6M853.3,749.5L1328.3,274.5M853.3,756.4L1328.3,281.4M853.3,763.3L1328.3,288.3M853.3,770.2L1328.3,295.2M853.3,777.1L1328.3,302.1M853.3,784.0L1328.3,309.0M853.3,790.9L1328.3,315.9M853.3,797.8L1328.3,322.8M853.3,804.7L1328.3,329.7M853.3,811.6L1328.3,336.6M853.3,818.5L1328.3,343.5M853.3,825.4L1328.3,350.4M853.3,832.3L1328.3,357.3M853.3,839.2L1328.3,364.2M853.3,846.1L1328.3,371.1M853.3,853.0L1328.3,378.0M853.3,859.9L1328.3,384.9M853.3,866.8L1328.3,391.8M853.3,873.7L1328.3,398.7M853.3,880.6L1328.3,405.6M853.3,887.5L1328.3,412.5M853.3,894.4L1328.3,419.4M853.3,901.3L1328.3,426.3M853.3,908.2L1328.3,433.2M853.3,915.1L1328.3,440.1M853.3,922.0L1328.3,447.0M853.3,928.9L1328.3,453.9M853.3,935.8L1328.3,460.8M853.3,942.7L1328.3,467.7M853.3,949.6L1328.3,474.6M853.3,956.5L1328.3,481.5M853.3,963.4L1328.3,488.4M853.3,970.3L1328.3,495.3M853.3,977.2L1328.3,502.2M853.3,984.1L1328.3,509.1M853.3,991.0L1328.3,516.0M853.3,997.9L1328.3,522.9M853.3,1004.8L1328.3,529.8M853.3,1011.7L1328.3,536.7" stroke="#fff" stroke-width="1.5" fill="none"/>
</g>
<path d="M853.3,499.8 858.0,501.3 862.2,506.3 866.3,510.5 870.5,512.7 873.8,511.3 875.5,498.0 878.8,508.0 883.8,503.0 889.7,496.3 895.5,488.0 898.0,470.5 904.7,469.7 908.8,466.3 912.2,458.0 914.7,449.7 917.2,434.7 919.7,440.5 923.8,443.8 926.7,434.7 928.8,443.0 931.3,453.0 934.7,458.0 938.8,463.0 943.0,466.3 948.0,474.7 953.0,483.0 958.0,489.7 961.3,504.7 964.7,516.3 968.0,523.0 972.2,528.8 975.5,529.7 979.7,523.0 982.7,499.7 984.7,479.7 987.2,469.7 991.3,468.0 994.7,464.7 998.0,469.7 1000.5,466.3 1003.8,465.5 1007.2,469.7 1010.5,472.2 1013.0,474.7 1015.5,469.7 1018.8,470.5 1022.2,467.2 1024.7,469.7 1027.2,479.7 1030.5,493.0 1033.8,504.7 1037.2,513.0 1041.3,517.2 1046.3,516.3 1051.3,513.0 1056.3,508.0 1061.3,505.5 1066.3,506.3 1069.7,514.7 1073.8,518.0 1077.2,506.3 1081.3,508.0 1083.7,509.7 1084.0,510.5 1088.2,514.7 1091.5,518.0 1094.8,525.5 1098.2,528.8 1101.5,523.0 1106.5,509.7 1109.0,491.3 1111.5,474.7 1114.0,463.0 1117.3,454.7 1119.8,453.0 1123.2,459.7 1126.5,466.3 1129.8,458.0 1132.3,449.7 1134.3,441.3 1136.5,453.0 1139.0,464.7 1141.5,468.0 1144.0,458.0 1147.3,441.3 1150.7,424.7 1154.0,411.3 1157.3,404.7 1159.8,402.2 1163.2,405.5 1166.5,406.3 1169.8,414.7 1174.0,426.3 1177.3,433.0 1182.3,429.7 1187.3,426.3 1191.5,421.3 1194.8,416.3 1199.0,411.3 1204.0,410.5 1207.3,411.3 1209.8,403.0 1213.2,393.0 1217.3,381.3 1221.5,374.7 1224.8,373.8 1229.0,378.0 1233.2,383.0 1236.5,389.7 1239.8,406.3 1243.2,423.0 1246.5,433.0 1249.8,438.0 1254.0,438.8 1257.3,437.2 1260.7,439.7 1265.7,441.3 1270.7,443.8 1274.8,447.2 1277.3,454.7 1280.7,454.7 1283.2,448.8 1285.7,448.0 1288.2,451.3 1290.7,458.0 1294.0,469.7 1297.3,483.0 1300.7,498.0 1304.0,513.0 1308.2,523.0 1312.3,529.7 1317.3,531.3 1320.0,530.5 1323.3,531.3 1328.0,531.3 1328.3,531.3 L1328.3,540.3 L853.3,540.3Z" fill="#4065a1" />
<path d="M853.3,521.4 858.0,523.0 863.0,525.5 868.0,528.0 873.0,527.2 874.3,513.0 875.5,498.0 876.7,513.0 878.0,523.0 881.3,519.7 886.3,516.3 893.0,513.0 896.3,514.7 898.0,503.0 903.0,505.5 910.5,505.5 912.2,499.7 916.3,493.0 918.0,487.2 922.2,486.3 925.0,484.7 927.2,480.5 929.7,486.3 934.7,492.2 938.8,494.7 942.2,492.2 946.3,494.7 951.3,499.7 956.3,503.0 959.7,509.7 963.0,516.3 968.0,524.7 973.0,529.7 977.2,528.8 981.3,523.0 983.8,514.7 986.3,506.3 989.7,503.0 994.7,504.7 998.0,509.7 1000.5,506.3 1003.0,500.5 1006.3,501.3 1010.5,504.7 1013.8,505.5 1016.3,503.0 1018.8,504.7 1021.3,503.0 1024.7,506.3 1029.7,511.3 1034.7,516.3 1039.7,521.3 1043.0,524.7 1048.0,522.2 1054.7,519.7 1063.0,519.7 1069.7,523.0 1074.7,524.7 1078.0,521.3 1083.7,518.8 1084.0,518.8 1089.0,521.3 1094.0,528.0 1098.2,531.3 1102.3,528.0 1106.5,523.0 1109.0,516.3 1111.5,506.3 1114.8,499.7 1119.0,498.0 1124.0,499.7 1129.0,497.2 1132.3,498.0 1134.0,491.3 1136.5,498.0 1140.7,499.7 1143.2,498.0 1146.5,486.3 1150.7,478.0 1154.0,469.7 1157.3,464.7 1160.7,463.0 1165.7,465.5 1169.8,473.0 1174.0,484.7 1177.3,494.7 1182.3,491.3 1187.3,489.7 1192.3,488.0 1197.3,483.0 1202.3,478.0 1208.2,474.7 1212.3,464.7 1216.5,451.3 1219.8,443.0 1223.2,440.0 1227.3,441.3 1231.5,447.2 1235.7,456.3 1239.0,468.0 1242.3,483.0 1245.7,496.3 1249.8,503.0 1254.0,503.8 1258.2,501.3 1260.7,503.8 1265.7,499.7 1270.7,498.8 1275.7,501.3 1279.8,507.2 1283.2,503.0 1286.5,501.3 1289.8,506.3 1294.0,513.0 1299.0,521.3 1304.0,529.7 1309.0,534.7 1314.0,536.3 1320.0,536.3 1328.0,535.5 1328.3,535.5 L1328.3,540.3 L853.3,540.3Z" fill="#5f86ca" />
<path d="M873.0,537.2 875.5,523.0 878.0,537.2 L878.0,540.3 L873.0,540.3Z" fill="#82abde" />
<path d="M895.5,537.2 898.0,528.0 901.3,533.0 904.7,537.2 L904.7,540.3 L895.5,540.3Z" fill="#82abde" />
<path d="M921.3,537.2 926.3,531.3 929.7,534.7 934.7,537.2 L934.7,540.3 L921.3,540.3Z" fill="#82abde" />
<path d="M983.0,537.2 985.0,526.3 988.0,522.2 992.2,524.7 994.7,522.2 998.0,537.2 L998.0,540.3 L983.0,540.3Z" fill="#82abde" />
<path d="M1000.5,537.2 1003.3,521.3 1007.2,524.7 1010.5,532.2 1013.0,537.2 L1013.0,540.3 L1000.5,540.3Z" fill="#82abde" />
<path d="M1073.8,537.2 1075.5,525.5 1078.0,523.0 1081.3,525.5 1083.7,526.3 1084.0,526.3 1087.3,527.7 1091.5,529.7 1094.8,533.8 1097.3,537.2 L1097.3,540.3 L1073.8,540.3Z" fill="#82abde" />
<path d="M1132.3,537.2 1134.3,528.0 1136.5,534.7 1139.0,537.2 L1139.0,540.3 L1132.3,540.3Z" fill="#82abde" />
<rect x="853.3" y="536.0999999999999" width="475.0" height="4.2" fill="#9ab0cf"/>
<rect x="853.3" y="537.0999999999999" width="10" height="3.2" fill="#5f8560"/>
<rect x="875" y="537.3" width="17" height="3.0" fill="#5f8560"/>
<path d="M853.3,466.8 855.0,469.7 858.0,470.0 861.3,466.3 864.3,464.7 866.3,456.3 868.8,444.7 871.3,436.3 873.3,429.7 875.5,411.3 878.0,394.7 880.5,374.7 883.0,358.0 885.0,346.3 886.3,316.3 887.5,290.5 889.7,293.0 891.7,301.3 893.8,314.7 895.5,331.3 897.2,353.0 898.8,376.3 900.5,398.0 901.7,413.0 903.8,424.7 906.3,434.7 908.8,443.0 911.3,447.2 913.8,448.0 916.3,449.3 918.0,435.5 920.5,441.3 923.8,444.3 926.7,435.5 928.3,443.0 930.0,456.3 933.8,457.2 936.3,451.3 938.8,443.0 940.0,424.7 941.3,396.3 943.0,366.3 944.7,349.7 946.3,339.7 949.3,342.5 950.5,330.0 952.2,303.3 953.5,293.3 956.0,289.2 958.0,294.2 959.7,300.0 961.0,321.7 962.2,336.7 963.8,348.0 966.3,369.7 968.0,389.7 969.7,413.0 971.7,433.0 973.8,443.8 976.3,448.0 979.7,450.5 982.2,453.0 983.3,458.8 984.7,449.7 986.3,438.8 988.8,436.7 992.2,436.3 995.5,436.7 997.2,443.0 998.8,450.5 1001.3,450.5 1003.0,434.7 1005.5,424.7 1008.0,413.0 1010.5,403.0 1013.0,391.3 1015.5,369.7 1018.0,359.7 1021.3,351.3 1023.3,344.7 1024.7,333.0 1026.3,349.7 1028.8,368.0 1031.3,388.0 1033.8,411.3 1035.5,426.3 1038.0,431.3 1040.5,438.0 1043.0,444.7 1045.5,450.5 1048.8,453.8 1052.2,459.7 1055.5,464.3 1058.0,463.0 1061.3,465.0 1065.5,467.2 1068.8,469.7 1071.3,464.7 1074.7,460.5 1076.3,446.3 1078.8,424.7 1081.3,399.7 1083.0,376.3 1084.0,366.3 1086.5,356.3 1089.0,341.3 1090.7,326.3 1091.8,313.0 1093.2,328.0 1095.7,349.7 1098.2,369.7 1100.7,389.7 1103.2,413.0 1104.8,428.0 1107.0,440.5 1109.0,445.5 1111.5,452.2 1114.0,443.0 1116.5,437.2 1119.0,437.2 1121.0,443.8 1124.0,458.0 1127.0,466.3 1129.0,456.3 1131.5,448.0 1134.0,440.5 1135.7,448.0 1137.7,459.7 1140.7,459.7 1142.3,443.0 1144.0,416.3 1145.7,389.7 1147.0,373.0 1149.0,361.3 1151.5,359.7 1154.0,353.8 1156.8,349.7 1159.8,351.3 1162.3,358.0 1165.7,361.0 1169.8,360.5 1173.2,358.0 1175.3,356.3 1176.2,366.3 1177.0,383.0 1179.0,398.0 1182.3,414.7 1184.0,420.5 1185.7,419.7 1189.0,428.0 1191.5,421.3 1194.8,416.3 1198.2,412.2 1202.3,410.0 1206.5,411.0 1208.2,399.7 1209.8,386.3 1212.0,373.8 1214.8,369.7 1219.3,366.3 1221.5,353.0 1224.0,336.3 1226.0,324.7 1228.7,322.7 1230.7,333.0 1233.2,353.0 1234.8,364.7 1237.3,371.3 1239.8,373.8 1242.3,370.5 1244.3,381.3 1246.5,393.0 1249.0,413.0 1251.5,433.0 1254.0,431.3 1257.3,428.8 1260.7,433.8 1264.0,438.0 1269.0,441.3 1274.0,443.0 1276.5,433.0 1279.0,416.3 1280.7,399.7 1282.3,384.7 1284.8,376.3 1287.3,377.2 1291.5,374.7 1294.8,373.8 1297.3,368.8 1299.8,378.0 1304.8,379.7 1306.5,396.3 1308.2,416.3 1309.8,439.7 1311.5,456.3 1314.8,461.3 1317.3,464.7 1320.0,468.0 1320.8,468.0 1323.3,468.0 1325.0,471.3 1328.0,470.0 1328.3,470.0" fill="none" stroke="#000" stroke-width="2.2" stroke-linejoin="round" stroke-linecap="round"/>
<rect x="851.8" y="176.3" width="478.0" height="364.00" fill="none" stroke="#fff" stroke-width="3.3"/>
<text x="832.8" y="180.8" font-size="21.2" text-anchor="end">300</text>
<text x="832.8" y="241.6" font-size="21.2" text-anchor="end">250</text>
<text x="832.8" y="302.4" font-size="21.2" text-anchor="end">200</text>
<text x="832.8" y="363.2" font-size="21.2" textLength="31.2" lengthAdjust="spacingAndGlyphs" text-anchor="end">150</text>
<text x="832.8" y="424.0" font-size="21.2" textLength="32.0" lengthAdjust="spacingAndGlyphs" text-anchor="end">100</text>
<text x="832.8" y="484.8" font-size="21.2" text-anchor="end">50</text>
<text x="832.8" y="545.6" font-size="21.2" text-anchor="end">0</text>
<text x="862.2" y="547.8" font-size="22" textLength="60.5" lengthAdjust="spacingAndGlyphs" text-anchor="end" transform="rotate(-90 862.2 547.8)">04.06.</text>
<text x="930.5" y="547.8" font-size="22" textLength="60.5" lengthAdjust="spacingAndGlyphs" text-anchor="end" transform="rotate(-90 930.5 547.8)">05.06.</text>
<text x="998.8" y="547.8" font-size="22" textLength="60.5" lengthAdjust="spacingAndGlyphs" text-anchor="end" transform="rotate(-90 998.8 547.8)">06.06.</text>
<text x="1067.1" y="547.8" font-size="22" textLength="60.5" lengthAdjust="spacingAndGlyphs" text-anchor="end" transform="rotate(-90 1067.1 547.8)">07.06.</text>
<text x="1135.3" y="547.8" font-size="22" textLength="60.5" lengthAdjust="spacingAndGlyphs" text-anchor="end" transform="rotate(-90 1135.3 547.8)">08.06.</text>
<text x="1203.6" y="547.8" font-size="22" textLength="60.5" lengthAdjust="spacingAndGlyphs" text-anchor="end" transform="rotate(-90 1203.6 547.8)">09.06.</text>
<text x="1271.9" y="549.3" font-size="22" textLength="55.6" lengthAdjust="spacingAndGlyphs" text-anchor="end" transform="rotate(-90 1271.9 549.3)">10.06.</text>
<text x="773.2" y="392.8" font-size="20.5" textLength="79.6" lengthAdjust="spacingAndGlyphs" transform="rotate(-90 773.2 392.8)">[GWh/h]</text>
<line x1="184.5" x2="656.5" y1="908.67" y2="908.67" stroke="#fff" stroke-width="3.2"/>
<line x1="184.5" x2="656.5" y1="976.23" y2="976.23" stroke="#fff" stroke-width="3.2"/>
<line x1="184.5" x2="656.5" y1="1043.80" y2="1043.80" stroke="#fff" stroke-width="3.2"/>
<line x1="184.5" x2="656.5" y1="1111.37" y2="1111.37" stroke="#fff" stroke-width="3.2"/>
<line x1="184.5" x2="656.5" y1="1178.93" y2="1178.93" stroke="#fff" stroke-width="3.2"/>
<path d="M325.0,1079.8 326.7,1077.3 329.2,1073.2 331.7,1084.0 335.0,1089.0 338.3,1094.0 341.3,1095.7 342.5,1104.0 L342.5,1247.4 L325.0,1247.4Z" fill="#c8ccda" />
<path d="M422.7,1017.3 423.5,1029.0 426.0,1040.7 429.3,1049.0 432.7,1054.0 435.2,1064.0 438.5,1070.7 L438.5,1247.4 L422.7,1247.4Z" fill="#c8ccda" />
<path d="M186.0,1117.6 187.5,1119.8 190.8,1109.0 194.2,1110.7 197.5,1114.8 200.8,1128.2 202.5,1131.0 205.0,1129.8 206.7,1115.7 208.3,1090.7 210.8,1057.3 213.3,1032.3 215.8,1013.2 218.7,1007.3 220.8,1022.3 223.3,1047.3 225.8,1070.7 228.3,1089.8 230.8,1097.0 233.3,1092.3 236.7,1094.0 238.3,1099.8 240.8,1091.5 244.2,1090.7 247.5,1094.0 250.8,1099.0 255.0,1104.8 258.3,1109.0 261.7,1108.7 265.0,1104.0 267.5,1101.5 270.5,1103.2 273.0,1095.7 274.7,1074.8 277.5,1074.0 279.7,1065.7 281.7,1050.7 284.2,1025.7 286.7,1014.8 290.0,1010.3 293.3,1019.0 294.7,1042.3 295.0,1062.3 297.5,1069.0 300.8,1065.7 304.2,1059.8 307.5,1052.3 311.7,1044.0 314.7,1050.7 316.3,1059.0 318.0,1070.7 320.8,1072.3 323.3,1074.8 326.7,1082.3 329.2,1087.3 331.3,1094.8 334.2,1091.5 336.7,1099.0 340.0,1107.7 343.3,1100.7 345.0,1084.0 346.7,1059.0 348.3,1043.2 351.7,1046.5 354.2,1055.7 356.7,1065.7 360.0,1079.0 363.3,1079.8 366.7,1084.0 368.3,1090.7 370.0,1107.3 372.5,1119.0 375.0,1127.3 377.5,1130.7 380.8,1131.5 383.0,1134.0 385.8,1127.3 389.2,1119.0 392.5,1109.8 396.7,1101.5 400.0,1101.5 402.5,1107.3 404.2,1097.3 407.5,1085.7 410.8,1070.7 413.3,1050.7 415.0,1017.3 416.0,997.3 417.7,989.0 419.7,985.7 421.3,1000.7 423.5,1029.0 425.7,1054.0 427.7,1067.3 430.2,1076.5 433.5,1076.5 436.0,1069.0 439.3,1072.3 441.3,1078.2 444.3,1076.5 446.8,1082.3 450.2,1089.0 453.0,1094.8 456.0,1090.3 459.7,1094.0 464.3,1099.0 466.0,1112.3 467.7,1124.0 469.7,1134.0 472.7,1128.2 475.7,1132.3 476.8,1109.0 478.5,1080.7 480.7,1055.7 482.7,1037.3 486.0,1033.2 489.7,1030.3 492.7,1035.7 495.2,1050.7 496.5,1067.3 497.3,1085.7 501.0,1083.2 503.5,1086.5 506.0,1099.0 508.5,1104.8 511.0,1108.2 513.5,1107.7 517.7,1112.3 521.0,1117.3 524.3,1123.2 527.7,1129.8 530.2,1132.3 532.7,1127.3 533.5,1123.2 536.0,1122.3 539.3,1119.8 542.3,1119.0 544.3,1110.7 546.0,1103.2 548.5,1099.0 551.0,1087.3 552.7,1070.7 554.7,1047.3 556.8,1029.0 559.7,1037.3 562.7,1054.0 565.2,1070.7 566.8,1085.7 568.5,1104.0 570.2,1119.0 571.3,1126.5 574.3,1127.0 576.8,1125.7 580.2,1121.5 582.7,1119.8 586.0,1119.8 587.3,1134.0 588.5,1150.7 590.2,1164.8 592.7,1150.7 595.2,1149.0 598.5,1140.7 601.8,1135.7 605.2,1131.5 609.3,1121.5 612.7,1110.7 615.2,1094.0 617.7,1059.0 620.2,1030.7 622.7,1014.0 625.5,1005.7 626.8,1020.7 629.3,1050.7 631.8,1074.0 634.3,1097.3 636.8,1112.3 639.3,1116.5 642.7,1114.0 646.8,1120.7 652.0,1122.3 653.3,1127.3 655.2,1131.5 L655.2,1247.4 L186.0,1247.4Z" fill="#723b93" />
<path d="M186.0,1159.5 188.3,1160.7 190.8,1152.3 196.7,1153.2 199.2,1144.0 202.5,1134.0 206.7,1132.3 209.2,1110.7 211.7,1098.2 215.8,1095.7 218.7,1093.2 220.8,1107.3 224.2,1112.3 228.3,1125.7 230.8,1129.0 234.2,1125.7 237.5,1126.5 239.2,1132.3 242.5,1127.3 246.7,1132.3 251.7,1139.0 256.7,1142.3 260.8,1145.7 265.0,1140.7 268.3,1137.3 273.3,1132.3 276.7,1120.7 280.0,1104.0 281.7,1090.7 286.7,1086.5 290.0,1084.0 294.2,1090.7 296.7,1092.3 300.8,1088.2 304.2,1088.2 307.5,1093.2 311.7,1084.0 315.0,1092.3 317.5,1110.7 320.8,1112.3 325.0,1115.7 328.3,1119.0 330.8,1122.3 331.3,1129.0 333.3,1117.3 335.8,1109.0 340.0,1108.2 344.2,1106.5 348.3,1100.7 351.7,1104.0 356.7,1106.5 361.7,1107.3 365.8,1109.0 369.2,1112.3 371.7,1120.7 375.0,1129.0 378.3,1134.0 381.7,1138.2 385.0,1142.3 390.0,1139.8 395.0,1134.0 398.3,1129.8 401.7,1133.2 404.2,1117.3 406.7,1112.3 410.0,1100.7 412.5,1084.0 414.2,1077.3 415.7,1075.7 416.0,1075.7 419.3,1070.7 421.8,1077.3 424.3,1089.0 426.8,1097.3 430.2,1101.5 432.7,1104.0 436.0,1098.2 439.3,1102.3 442.7,1108.2 446.0,1115.7 450.2,1124.0 453.5,1130.7 456.0,1129.0 460.2,1133.2 464.3,1135.7 467.7,1136.5 471.0,1134.0 473.5,1131.5 475.7,1133.2 477.3,1114.0 479.3,1100.7 483.0,1094.0 486.0,1100.7 489.3,1104.8 493.5,1110.7 497.3,1116.5 500.2,1112.3 502.7,1108.2 505.2,1117.3 508.5,1124.0 512.7,1129.0 517.7,1134.8 522.7,1142.3 526.8,1148.2 530.2,1152.3 534.3,1144.0 539.3,1140.7 544.3,1136.5 549.3,1129.8 553.5,1122.3 556.0,1114.0 557.3,1108.2 560.2,1115.7 564.3,1119.0 566.8,1127.3 568.5,1142.3 570.2,1152.3 573.5,1154.8 577.7,1154.0 581.0,1150.7 584.3,1149.8 586.8,1157.3 589.3,1165.7 592.7,1168.2 597.7,1170.7 601.8,1167.3 606.0,1167.3 610.2,1164.0 612.7,1150.7 615.2,1125.7 617.7,1104.0 620.2,1093.2 622.7,1092.3 625.2,1089.0 627.3,1099.0 630.2,1110.7 632.7,1125.7 635.2,1135.7 638.5,1144.0 641.8,1142.3 646.8,1148.2 652.0,1149.0 655.2,1151.5 L655.2,1247.4 L186.0,1247.4Z" fill="#5f86ca" />
<path d="M186.0,1163.5 190.8,1164.8 196.7,1162.3 199.2,1150.7 201.7,1139.0 206.7,1138.2 209.2,1130.7 211.7,1123.2 215.0,1122.3 218.3,1125.7 220.8,1137.3 224.2,1139.8 228.3,1141.5 230.8,1138.2 233.3,1133.2 236.7,1136.5 238.3,1143.2 242.5,1144.0 246.7,1147.3 251.7,1151.5 256.7,1154.8 261.7,1156.5 265.0,1154.0 268.3,1144.0 271.7,1136.5 276.7,1135.7 280.0,1129.0 281.7,1120.7 286.7,1119.8 293.3,1122.3 296.7,1121.5 300.8,1115.7 304.2,1120.7 308.3,1128.2 313.3,1132.3 318.3,1136.5 323.3,1139.8 327.5,1142.3 330.0,1144.0 331.3,1152.3 333.3,1144.0 335.8,1137.3 340.0,1134.8 344.2,1134.0 348.3,1134.8 353.3,1135.7 357.5,1136.5 360.8,1138.2 363.3,1139.8 368.3,1131.5 371.7,1137.3 375.8,1141.5 379.2,1144.0 382.5,1148.2 386.7,1154.0 391.7,1157.3 396.7,1157.3 400.0,1156.5 403.3,1144.0 405.8,1137.3 409.2,1134.8 411.7,1117.3 413.3,1108.2 415.7,1107.3 416.0,1106.5 419.3,1109.0 422.7,1110.7 425.2,1127.3 427.7,1134.0 431.0,1139.0 433.5,1137.3 436.3,1134.8 439.3,1139.0 442.7,1144.8 446.8,1148.2 451.0,1151.5 456.0,1155.7 461.0,1157.3 466.0,1156.5 469.3,1149.0 472.7,1139.0 475.7,1136.5 477.3,1124.0 480.2,1123.7 482.7,1123.7 485.2,1130.7 487.7,1135.7 492.7,1139.8 497.7,1144.0 501.0,1138.2 503.5,1134.8 506.8,1140.7 511.0,1144.8 514.3,1148.2 517.7,1148.2 522.7,1153.2 527.7,1158.2 531.8,1162.3 535.2,1166.5 537.7,1165.7 541.0,1163.2 546.0,1158.2 551.0,1154.8 554.3,1154.0 556.8,1143.2 561.0,1146.5 565.2,1149.8 567.7,1154.0 569.7,1159.0 571.3,1154.0 574.3,1159.0 578.5,1164.0 582.7,1163.2 586.0,1166.5 589.3,1167.3 592.7,1169.8 599.3,1172.3 606.0,1175.7 610.2,1170.7 613.5,1159.0 616.0,1142.3 618.0,1123.2 620.2,1119.0 624.3,1122.3 627.7,1125.7 630.2,1136.5 632.7,1144.0 635.2,1160.7 637.7,1165.7 641.0,1162.3 646.0,1167.3 649.3,1164.8 652.0,1165.7 655.2,1165.7 L655.2,1247.4 L186.0,1247.4Z" fill="#a3c7ed" />
<path d="M208.3,1148.2 210.8,1134.8 217.5,1134.0 220.0,1144.0 221.3,1149.0 L221.3,1247.4 L208.3,1247.4Z" fill="#737c9f" />
<path d="M278.3,1148.2 280.8,1133.2 286.7,1132.7 293.3,1134.8 296.7,1135.7 300.8,1131.5 304.2,1133.2 308.3,1137.3 313.3,1139.8 318.3,1144.0 323.3,1146.5 327.5,1148.2 330.0,1149.8 331.0,1164.8 L331.0,1247.4 L278.3,1247.4Z" fill="#737c9f" />
<path d="M408.3,1149.0 410.8,1134.0 413.3,1119.0 415.7,1118.2 416.0,1119.0 420.2,1120.7 422.7,1122.3 425.2,1134.0 427.7,1144.0 430.2,1152.3 L430.2,1247.4 L408.3,1247.4Z" fill="#737c9f" />
<path d="M476.8,1149.0 478.0,1137.3 480.2,1134.8 482.7,1134.8 485.2,1139.8 487.7,1145.7 490.2,1150.7 L490.2,1247.4 L476.8,1247.4Z" fill="#737c9f" />
<path d="M554.3,1163.2 556.8,1152.3 560.2,1154.0 563.5,1156.5 566.0,1158.2 567.7,1165.7 568.5,1170.7 L568.5,1247.4 L554.3,1247.4Z" fill="#737c9f" />
<path d="M613.5,1173.2 615.2,1159.0 617.7,1137.3 619.7,1129.0 622.7,1130.3 626.3,1132.3 629.0,1140.7 631.8,1149.0 633.5,1160.7 635.2,1175.7 L635.2,1247.4 L613.5,1247.4Z" fill="#737c9f" />
<path d="M186.0,1169.3 190.8,1170.7 196.7,1168.2 200.8,1157.3 203.3,1152.3 210.0,1149.0 215.8,1148.2 220.8,1149.0 224.2,1150.7 228.3,1154.0 231.7,1151.5 235.0,1149.0 238.3,1154.0 242.5,1155.7 246.7,1156.5 251.7,1159.8 256.7,1162.3 261.7,1164.0 265.0,1163.2 268.3,1155.7 273.3,1149.0 280.0,1148.2 286.7,1148.2 290.8,1148.2 295.0,1151.5 298.3,1149.0 302.5,1148.2 306.7,1151.5 310.0,1154.8 313.3,1155.7 318.3,1159.8 323.3,1163.2 327.5,1164.8 330.8,1164.8 332.5,1157.3 335.8,1150.7 340.0,1148.2 344.2,1146.5 348.3,1146.5 353.3,1147.3 357.5,1148.2 360.8,1149.8 363.3,1152.3 368.3,1147.3 373.3,1149.8 378.3,1153.2 382.5,1155.7 386.7,1159.0 391.7,1163.2 395.8,1164.8 400.0,1163.2 402.5,1155.7 405.0,1150.7 410.0,1149.0 415.7,1148.2 416.0,1148.2 422.7,1149.8 430.2,1153.2 433.5,1150.7 436.8,1149.8 441.0,1153.2 446.0,1156.5 451.0,1159.8 456.0,1163.2 461.0,1164.0 466.0,1163.2 469.3,1159.0 472.7,1153.2 476.8,1149.8 482.7,1148.2 487.7,1149.8 492.7,1152.3 497.7,1155.7 501.0,1153.2 504.3,1150.7 508.5,1154.8 512.7,1158.2 517.7,1157.3 522.7,1160.7 527.7,1164.8 531.8,1168.2 534.3,1170.7 536.8,1173.2 540.2,1171.5 544.3,1166.5 549.3,1163.2 554.3,1164.0 559.3,1166.5 564.3,1169.8 566.8,1171.5 569.3,1165.7 571.8,1164.0 576.0,1168.2 581.0,1169.8 586.0,1167.3 591.0,1169.8 596.0,1173.2 601.0,1176.5 606.0,1181.5 609.3,1179.0 613.5,1173.2 617.7,1170.7 622.7,1169.8 627.7,1174.0 632.7,1177.3 636.0,1172.3 641.0,1170.7 646.0,1169.8 652.0,1168.2 655.2,1168.2 L655.2,1247.4 L186.0,1247.4Z" fill="#ab8bb9" />
<path d="M186.0,1117.6 187.5,1119.8 190.8,1109.0 194.2,1110.7 197.5,1114.8 200.8,1128.2 202.5,1131.0 205.0,1129.8 206.7,1115.7 208.3,1090.7 210.8,1057.3 213.3,1032.3 215.8,1013.2 218.7,1007.3 220.8,1022.3 223.3,1047.3 225.8,1070.7 228.3,1089.8 230.8,1097.0 233.3,1092.3 236.7,1094.0 238.3,1099.8 240.8,1091.5 244.2,1090.7 247.5,1094.0 250.8,1099.0 255.0,1104.8 258.3,1109.0 261.7,1108.7 265.0,1104.0 267.5,1101.5 270.5,1103.2 273.0,1095.7 274.7,1074.8 277.5,1074.0 279.7,1065.7 281.7,1050.7 284.2,1025.7 286.7,1014.8 290.0,1010.3 293.3,1019.0 294.7,1042.3 295.0,1062.3 297.5,1069.0 300.8,1065.7 304.2,1059.8 307.5,1052.3 311.7,1044.0 314.7,1050.7 316.3,1059.0 318.0,1070.7 320.8,1072.3 323.3,1074.8 326.7,1082.3 329.2,1087.3 331.3,1094.8 334.2,1091.5 336.7,1099.0 340.0,1107.7 343.3,1100.7 345.0,1084.0 346.7,1059.0 348.3,1043.2 351.7,1046.5 354.2,1055.7 356.7,1065.7 360.0,1079.0 363.3,1079.8 366.7,1084.0 368.3,1090.7 370.0,1107.3 372.5,1119.0 375.0,1127.3 377.5,1130.7 380.8,1131.5 383.0,1134.0 385.8,1127.3 389.2,1119.0 392.5,1109.8 396.7,1101.5 400.0,1101.5 402.5,1107.3 404.2,1097.3 407.5,1085.7 410.8,1070.7 413.3,1050.7 415.0,1017.3 416.0,997.3 417.7,989.0 419.7,985.7 421.3,1000.7 423.5,1029.0 425.7,1054.0 427.7,1067.3 430.2,1076.5 433.5,1076.5 436.0,1069.0 439.3,1072.3 441.3,1078.2 444.3,1076.5 446.8,1082.3 450.2,1089.0 453.0,1094.8 456.0,1090.3 459.7,1094.0 464.3,1099.0 466.0,1112.3 467.7,1124.0 469.7,1134.0 472.7,1128.2 475.7,1132.3 476.8,1109.0 478.5,1080.7 480.7,1055.7 482.7,1037.3 486.0,1033.2 489.7,1030.3 492.7,1035.7 495.2,1050.7 496.5,1067.3 497.3,1085.7 501.0,1083.2 503.5,1086.5 506.0,1099.0 508.5,1104.8 511.0,1108.2 513.5,1107.7 517.7,1112.3 521.0,1117.3 524.3,1123.2 527.7,1129.8 530.2,1132.3 532.7,1127.3 533.5,1123.2 536.0,1122.3 539.3,1119.8 542.3,1119.0 544.3,1110.7 546.0,1103.2 548.5,1099.0 551.0,1087.3 552.7,1070.7 554.7,1047.3 556.8,1029.0 559.7,1037.3 562.7,1054.0 565.2,1070.7 566.8,1085.7 568.5,1104.0 570.2,1119.0 571.3,1126.5 574.3,1127.0 576.8,1125.7 580.2,1121.5 582.7,1119.8 586.0,1119.8 587.3,1134.0 588.5,1150.7 590.2,1164.8 592.7,1150.7 595.2,1149.0 598.5,1140.7 601.8,1135.7 605.2,1131.5 609.3,1121.5 612.7,1110.7 615.2,1094.0 617.7,1059.0 620.2,1030.7 622.7,1014.0 625.5,1005.7 626.8,1020.7 629.3,1050.7 631.8,1074.0 634.3,1097.3 636.8,1112.3 639.3,1116.5 642.7,1114.0 646.8,1120.7 652.0,1122.3 653.3,1127.3 655.2,1131.5" fill="none" stroke="#000" stroke-width="2.2" stroke-linejoin="round" stroke-linecap="round"/>
<rect x="184.5" y="842.0" width="472.0" height="405.40" fill="none" stroke="#fff" stroke-width="3.3"/>
<text x="166.7" y="846.6" font-size="21.2" text-anchor="end">300</text>
<text x="166.7" y="914.2" font-size="21.2" text-anchor="end">250</text>
<text x="166.7" y="981.7" font-size="21.2" text-anchor="end">200</text>
<text x="166.7" y="1049.3" font-size="21.2" textLength="31.2" lengthAdjust="spacingAndGlyphs" text-anchor="end">150</text>
<text x="166.7" y="1116.9" font-size="21.2" textLength="32.0" lengthAdjust="spacingAndGlyphs" text-anchor="end">100</text>
<text x="166.7" y="1184.4" font-size="21.2" text-anchor="end">50</text>
<text x="166.7" y="1252.0" font-size="21.2" text-anchor="end">0</text>
<text x="192.4" y="1254.5" font-size="22" textLength="60.5" lengthAdjust="spacingAndGlyphs" text-anchor="end" transform="rotate(-90 192.4 1254.5)">06.02.</text>
<text x="259.8" y="1254.5" font-size="22" textLength="60.5" lengthAdjust="spacingAndGlyphs" text-anchor="end" transform="rotate(-90 259.8 1254.5)">07.02.</text>
<text x="327.3" y="1254.5" font-size="22" textLength="60.5" lengthAdjust="spacingAndGlyphs" text-anchor="end" transform="rotate(-90 327.3 1254.5)">08.02.</text>
<text x="394.7" y="1254.5" font-size="22" textLength="60.5" lengthAdjust="spacingAndGlyphs" text-anchor="end" transform="rotate(-90 394.7 1254.5)">09.02.</text>
<text x="462.1" y="1256.0" font-size="22" textLength="55.6" lengthAdjust="spacingAndGlyphs" text-anchor="end" transform="rotate(-90 462.1 1256.0)">10.02.</text>
<text x="529.5" y="1256.0" font-size="22" textLength="49.6" lengthAdjust="spacingAndGlyphs" text-anchor="end" transform="rotate(-90 529.5 1256.0)">11.02.</text>
<text x="597.0" y="1256.0" font-size="22" textLength="54.0" lengthAdjust="spacingAndGlyphs" text-anchor="end" transform="rotate(-90 597.0 1256.0)">12.02.</text>
<text x="105.5" y="1083.1" font-size="20.5" textLength="79.6" lengthAdjust="spacingAndGlyphs" transform="rotate(-90 105.5 1083.1)">[GWh/h]</text>
<line x1="851.8" x2="1329.8" y1="907.57" y2="907.57" stroke="#fff" stroke-width="3.2"/>
<line x1="851.8" x2="1329.8" y1="975.93" y2="975.93" stroke="#fff" stroke-width="3.2"/>
<line x1="851.8" x2="1329.8" y1="1044.30" y2="1044.30" stroke="#fff" stroke-width="3.2"/>
<line x1="851.8" x2="1329.8" y1="1112.67" y2="1112.67" stroke="#fff" stroke-width="3.2"/>
<line x1="851.8" x2="1329.8" y1="1181.03" y2="1181.03" stroke="#fff" stroke-width="3.2"/>
<path d="M946.3,1024.0 946.7,1020.0 948.0,993.3 949.7,968.3 951.0,943.3 952.2,918.3 953.3,901.7 955.5,893.3 957.7,901.7 958.8,918.3 960.5,943.3 962.2,968.3 963.8,993.3 965.5,1020.0 966.0,1039.0 L966.0,1248.9 L946.3,1248.9Z" fill="#ffffff" />
<path d="M1022.2,1026.0 1023.0,1006.7 1024.3,990.0 1026.0,1006.7 1027.7,1026.0 1028.3,1039.0 L1028.3,1248.9 L1022.2,1248.9Z" fill="#ffffff" />
<path d="M1091.3,1000.7 1092.7,985.0 1094.0,1000.7 L1094.0,1248.9 L1091.3,1248.9Z" fill="#ffffff" />
<path d="M1146.7,1057.3 1147.7,1026.0 1149.0,1001.7 1150.7,968.3 1152.3,935.0 1154.0,901.7 1155.7,868.3 1157.3,835.0 1159.3,816.7 1161.5,820.0 1163.7,835.0 1165.7,868.3 1167.3,901.7 1169.3,935.0 1171.5,968.3 1173.7,1001.7 1175.7,1026.0 1176.7,1055.7 L1176.7,1248.9 L1146.7,1248.9Z" fill="#ffffff" />
<path d="M1209.3,1067.3 1211.5,1026.0 1214.3,985.0 1216.5,951.7 1218.7,918.3 1220.3,885.0 1222.0,851.7 1223.2,826.7 1224.8,801.7 1226.5,781.7 1228.7,775.0 1230.7,780.0 1232.7,801.7 1234.8,826.7 1236.5,860.0 1238.2,893.3 1239.8,926.7 1241.5,960.0 1243.2,993.3 1245.3,1026.0 1246.5,1077.3 L1246.5,1248.9 L1209.3,1248.9Z" fill="#ffffff" />
<path d="M1282.0,1084.0 1283.2,1067.3 1286.0,1026.0 1288.2,1006.7 1289.8,993.3 1292.3,980.0 1294.3,960.0 1296.0,943.3 1297.3,929.2 1299.0,943.3 1300.7,960.0 1302.3,980.0 1304.0,1001.7 1306.5,1026.0 1307.3,1059.0 1308.7,1087.3 L1308.7,1248.9 L1282.0,1248.9Z" fill="#ffffff" />
<path d="M885.5,993.3 887.5,961.7 889.7,972.5 L889.7,1248.9 L885.5,1248.9Z" fill="#c8ccda" />
<path d="M909.7,1141.5 911.3,1143.7 913.8,1134.0 916.3,1127.3 919.3,1114.0 921.3,1122.3 923.8,1125.7 926.3,1114.8 928.8,1125.7 931.3,1128.2 934.7,1126.5 938.0,1122.3 939.3,1117.3 940.0,1125.7 L940.0,1248.9 L909.7,1248.9Z" fill="#c8ccda" />
<path d="M946.3,1024.0 947.5,1014.8 948.8,1024.8 L948.8,1248.9 L946.3,1248.9Z" fill="#c8ccda" />
<path d="M952.7,975.0 955.5,956.7 958.0,975.0 L958.0,1248.9 L952.7,1248.9Z" fill="#c8ccda" />
<path d="M1023.3,1027.3 1024.7,1007.3 1026.3,1027.3 L1026.3,1248.9 L1023.3,1248.9Z" fill="#c8ccda" />
<path d="M1104.3,1122.3 1105.7,1136.5 1109.0,1139.8 1112.7,1144.0 1115.7,1134.0 1119.0,1124.0 1121.0,1134.0 1124.0,1147.3 1126.5,1157.3 1129.0,1147.3 1132.3,1132.3 1135.7,1125.7 1137.7,1139.0 1139.8,1150.7 1142.3,1144.0 L1142.3,1248.9 L1104.3,1248.9Z" fill="#c8ccda" />
<path d="M1146.5,1057.3 1147.3,1044.0 1149.8,1034.0 1154.0,1032.3 1159.0,1026.5 1162.0,1028.2 1164.0,1034.0 1165.7,1037.3 1170.7,1035.7 1174.3,1031.5 1176.0,1042.3 1176.7,1055.7 L1176.7,1248.9 L1146.5,1248.9Z" fill="#c8ccda" />
<path d="M1176.7,1055.7 1178.2,1077.3 1180.7,1090.7 1184.0,1100.7 1188.2,1104.0 1192.3,1100.7 1197.3,1095.7 1202.3,1090.7 1206.5,1084.0 1208.2,1077.3 1209.0,1084.0 L1209.0,1248.9 L1176.7,1248.9Z" fill="#c8ccda" />
<path d="M1209.0,1070.7 1209.8,1054.0 1212.0,1042.3 1214.8,1045.7 1219.0,1044.8 1223.2,1025.7 1226.5,1000.7 1229.3,994.8 1231.5,1012.3 1234.0,1034.0 1236.5,1047.3 1239.0,1052.3 1241.5,1050.7 1243.7,1046.5 1245.7,1059.0 1246.5,1077.3 L1246.5,1248.9 L1209.0,1248.9Z" fill="#c8ccda" />
<path d="M1246.5,1077.3 1248.2,1084.0 1250.7,1104.0 1254.0,1110.7 1259.0,1117.3 1264.0,1122.3 1269.0,1125.7 1274.0,1128.2 1275.7,1127.3 1277.0,1130.7 L1277.0,1248.9 L1246.5,1248.9Z" fill="#c8ccda" />
<path d="M1281.5,1089.0 1282.3,1067.3 1284.8,1057.3 1288.2,1055.7 1292.3,1054.0 1295.3,1052.3 1297.3,1046.5 1299.8,1055.7 1302.3,1059.0 1306.5,1061.5 1308.2,1077.3 1309.0,1092.3 L1309.0,1248.9 L1281.5,1248.9Z" fill="#c8ccda" />
<path d="M853.3,1166.0 857.2,1169.8 860.5,1166.5 864.2,1164.3 866.3,1152.3 868.8,1140.7 871.3,1132.3 873.3,1125.7 875.5,1112.3 878.0,1097.3 880.5,1080.7 882.2,1054.0 883.3,1034.0 884.3,1026.0 885.5,993.3 887.2,967.5 889.7,972.5 891.7,983.3 893.8,1000.0 895.5,1020.7 897.2,1040.7 899.3,1060.7 900.5,1084.0 901.7,1104.0 903.8,1117.3 906.3,1129.0 908.8,1139.0 911.3,1143.7 913.8,1144.8 916.0,1146.0 917.7,1139.0 919.3,1130.7 921.3,1134.8 923.8,1141.5 926.7,1130.7 928.3,1142.3 930.0,1155.7 932.2,1155.7 934.7,1150.7 937.2,1144.0 939.3,1135.7 940.5,1117.3 941.7,1097.3 943.0,1074.0 944.7,1047.3 946.3,1024.0 949.7,1024.8 951.0,1000.7 952.7,975.0 955.5,965.8 958.0,975.0 960.0,993.3 962.2,1013.3 963.8,1026.0 965.5,1037.3 966.7,1057.3 968.0,1080.7 969.7,1104.0 971.7,1125.7 973.8,1139.0 976.3,1146.5 978.8,1149.0 982.2,1149.3 983.8,1154.0 985.0,1157.3 986.3,1144.0 987.7,1134.0 989.7,1131.5 992.7,1130.7 995.5,1132.3 997.2,1139.0 998.8,1148.2 1001.7,1149.8 1003.3,1132.3 1005.5,1122.3 1008.0,1110.7 1010.5,1097.3 1013.0,1082.3 1015.5,1062.3 1018.0,1050.7 1021.3,1040.7 1023.3,1027.3 1024.7,1014.8 1026.7,1032.3 1028.8,1049.0 1031.0,1064.0 1032.7,1087.3 1034.3,1110.7 1035.5,1122.3 1038.0,1127.3 1040.5,1135.7 1043.0,1142.3 1045.5,1146.5 1049.7,1150.7 1052.2,1156.5 1055.0,1164.8 1058.0,1163.2 1062.2,1165.3 1066.3,1167.7 1069.7,1169.3 1072.2,1164.0 1075.5,1159.0 1077.2,1142.3 1078.8,1120.7 1080.5,1097.3 1082.2,1074.0 1084.0,1055.7 1086.5,1045.7 1089.0,1029.0 1091.0,1010.7 1093.2,993.2 1095.3,1012.3 1097.3,1034.0 1099.3,1054.0 1100.7,1077.3 1102.7,1104.0 1104.3,1122.3 1106.5,1137.3 1109.0,1144.0 1112.7,1149.8 1115.7,1140.7 1119.0,1131.5 1121.0,1142.3 1123.7,1157.3 1126.5,1166.5 1129.0,1155.7 1132.3,1142.3 1136.0,1136.5 1137.7,1147.3 1139.0,1159.8 1141.5,1159.8 1142.7,1144.0 1144.0,1110.7 1145.7,1075.7 1147.3,1057.3 1149.0,1046.5 1151.5,1044.8 1154.8,1039.8 1159.0,1033.2 1162.0,1034.8 1163.7,1042.3 1165.3,1047.3 1169.0,1046.0 1171.5,1047.3 1175.3,1041.5 1176.5,1055.7 1178.2,1084.0 1180.7,1100.7 1183.2,1112.3 1185.7,1114.0 1188.7,1123.2 1191.5,1115.7 1194.8,1109.8 1198.2,1104.8 1201.5,1103.2 1207.3,1103.2 1208.7,1087.3 1210.3,1070.7 1212.0,1061.5 1214.8,1057.3 1218.7,1055.7 1221.0,1054.0 1223.2,1039.0 1225.3,1020.7 1227.3,1005.7 1230.2,1004.0 1232.0,1024.0 1234.0,1044.0 1236.0,1057.3 1238.2,1062.3 1241.0,1062.3 1243.7,1056.5 1245.3,1065.7 1247.3,1082.3 1249.3,1100.7 1251.5,1119.0 1253.2,1129.8 1257.3,1124.8 1260.7,1129.0 1264.8,1133.2 1269.0,1136.5 1272.3,1140.3 1274.8,1139.8 1276.5,1130.7 1279.0,1110.7 1281.5,1089.0 1283.2,1074.0 1285.7,1064.8 1289.0,1065.7 1292.3,1063.2 1295.3,1062.3 1297.3,1054.8 1299.3,1065.7 1302.3,1068.2 1306.5,1070.7 1308.2,1084.0 1309.8,1107.3 1311.0,1134.0 1312.3,1154.0 1314.8,1158.2 1317.3,1163.2 1320.0,1170.7 1322.5,1168.2 1325.0,1170.7 1327.5,1169.8 1328.3,1169.4 L1328.3,1248.9 L853.3,1248.9Z" fill="#723b93" />
<path d="M853.3,1166.0 853.8,1166.5 854.3,1167.0 854.8,1167.5 855.3,1168.0 855.8,1168.5 856.3,1169.0 856.8,1169.5 857.3,1169.7 857.8,1169.2 858.3,1168.7 858.8,1168.2 859.3,1167.7 859.8,1167.2 860.3,1166.7 860.8,1166.3 861.3,1166.0 861.8,1165.7 862.3,1165.4 862.8,1165.1 863.3,1164.8 863.8,1164.5 864.3,1163.6 864.8,1160.8 865.3,1158.1 865.8,1155.3 866.3,1152.5 866.8,1150.1 867.3,1147.8 867.8,1145.5 868.3,1143.1 868.8,1140.8 869.3,1139.1 869.8,1137.4 870.3,1135.8 870.8,1134.1 871.3,1132.4 871.8,1130.8 872.3,1129.1 872.8,1127.4 873.3,1125.8 873.8,1122.8 874.3,1119.7 874.8,1116.6 875.3,1113.6 875.8,1110.5 876.3,1107.5 876.8,1104.5 877.3,1101.5 877.8,1098.5 878.3,1095.3 878.8,1092.0 879.3,1088.7 879.8,1085.3 880.3,1082.0 880.8,1075.9 881.3,1067.9 881.8,1059.9 882.3,1051.8 882.8,1043.1 883.3,1034.5 883.8,1030.2 884.3,1026.2 884.8,1017.0 885.3,1007.4 885.8,997.8 886.3,994.3 886.8,994.9 887.3,995.5 887.8,996.0 888.3,996.6 888.8,997.2 889.3,997.7 889.8,998.3 890.3,998.7 890.8,999.1 891.3,999.5 891.8,999.9 892.3,1000.4 892.8,1000.8 893.3,1001.3 893.8,1001.8 894.3,1005.8 894.8,1012.0 895.3,1018.2 895.8,1024.3 896.3,1030.3 896.8,1036.2 897.3,1041.9 897.8,1046.5 898.3,1051.1 898.8,1055.8 899.3,1060.4 899.8,1070.0 900.3,1080.0 900.8,1089.1 901.3,1097.7 901.8,1104.8 902.3,1107.9 902.8,1111.0 903.3,1114.1 903.8,1117.1 904.3,1119.5 904.8,1121.9 905.3,1124.2 905.8,1126.5 906.3,1128.9 906.8,1130.9 907.3,1132.9 907.8,1134.9 908.3,1136.9 908.8,1138.9 909.3,1139.9 909.8,1140.8 910.3,1141.7 910.8,1142.7 911.3,1143.6 911.8,1143.9 912.3,1144.1 912.8,1144.4 913.3,1144.6 913.8,1144.8 914.3,1145.1 914.8,1145.4 915.3,1145.6 915.8,1145.9 916.3,1144.7 916.8,1142.6 917.3,1140.6 917.8,1138.3 918.3,1135.8 918.8,1133.3 919.3,1130.8 919.8,1131.6 920.3,1132.7 920.8,1133.7 921.3,1134.8 921.8,1136.1 922.3,1137.4 922.8,1138.8 923.3,1140.1 923.8,1141.4 924.3,1139.7 924.8,1137.8 925.3,1135.9 925.8,1134.0 926.3,1132.1 926.8,1131.6 927.3,1135.1 927.8,1138.6 928.3,1142.1 928.8,1146.1 929.3,1150.1 929.8,1154.1 930.3,1155.7 930.8,1155.7 931.3,1155.7 931.8,1155.7 932.3,1155.4 932.8,1154.4 933.3,1153.4 933.8,1152.4 934.3,1151.4 934.8,1150.3 935.3,1149.0 935.8,1147.7 936.3,1146.3 936.8,1145.0 937.3,1143.5 937.8,1141.6 938.3,1139.6 938.8,1137.7 939.3,1135.8 939.8,1128.3 940.3,1120.5 940.8,1112.2 941.3,1103.7 941.8,1095.0 942.3,1086.3 942.8,1077.5 943.3,1069.2 943.8,1061.2 944.3,1053.2 944.8,1045.5 945.3,1038.5 945.8,1031.4 946.3,1024.4 946.8,1025.1 947.3,1025.3 947.8,1025.6 948.3,1026.2 948.8,1027.1 949.3,1027.9 949.8,1028.8 950.3,1029.7 950.8,1030.6 951.3,1031.4 951.8,1031.0 952.3,1030.5 952.8,1030.0 953.3,1029.5 953.8,1029.0 954.3,1028.5 954.8,1028.0 955.3,1027.5 955.8,1027.0 956.3,1026.5 956.8,1027.3 957.3,1028.2 957.8,1029.0 958.3,1029.9 958.8,1030.7 959.3,1031.6 959.8,1032.4 960.3,1033.3 960.8,1034.2 961.3,1035.0 961.8,1035.9 962.3,1036.5 962.8,1036.7 963.3,1036.9 963.8,1037.1 964.3,1037.2 964.8,1037.4 965.3,1037.6 965.8,1042.5 966.3,1051.0 966.8,1059.6 967.3,1068.4 967.8,1077.2 968.3,1084.9 968.8,1091.8 969.3,1098.8 969.8,1105.4 970.3,1110.8 970.8,1116.2 971.3,1121.7 971.8,1126.5 972.3,1129.6 972.8,1132.6 973.3,1135.7 973.8,1138.8 974.3,1140.4 974.8,1141.9 975.3,1143.4 975.8,1144.9 976.3,1146.4 976.8,1147.0 977.3,1147.5 977.8,1148.0 978.3,1148.5 978.8,1149.0 979.3,1149.0 979.8,1149.1 980.3,1149.1 980.8,1149.2 981.3,1149.2 981.8,1149.3 982.3,1149.7 982.8,1151.1 983.3,1152.5 983.8,1153.9 984.3,1155.3 984.8,1156.8 985.3,1154.3 985.8,1149.3 986.3,1144.3 986.8,1140.5 987.3,1136.8 987.8,1133.8 988.3,1133.2 988.8,1132.6 989.3,1132.0 989.8,1131.5 990.3,1131.3 990.8,1131.2 991.3,1131.0 991.8,1130.9 992.3,1130.8 992.8,1130.7 993.3,1131.0 993.8,1131.3 994.3,1131.6 994.8,1131.9 995.3,1132.2 995.8,1133.5 996.3,1135.5 996.8,1137.5 997.3,1139.7 997.8,1142.5 998.3,1145.2 998.8,1148.0 999.3,1148.4 999.8,1148.7 1000.3,1149.0 1000.8,1149.3 1001.3,1149.6 1001.8,1148.5 1002.3,1143.2 1002.8,1137.9 1003.3,1132.6 1003.8,1130.2 1004.3,1127.9 1004.8,1125.6 1005.3,1123.3 1005.8,1120.9 1006.3,1118.6 1006.8,1116.3 1007.3,1113.9 1007.8,1111.6 1008.3,1109.1 1008.8,1106.4 1009.3,1103.7 1009.8,1101.1 1010.3,1098.4 1010.8,1095.5 1011.3,1092.5 1011.8,1089.5 1012.3,1086.5 1012.8,1083.5 1013.3,1079.9 1013.8,1075.9 1014.3,1071.9 1014.8,1067.9 1015.3,1063.9 1015.8,1060.9 1016.3,1058.6 1016.8,1056.3 1017.3,1053.9 1017.8,1051.6 1018.3,1049.8 1018.8,1048.3 1019.3,1046.8 1019.8,1045.3 1020.3,1043.8 1020.8,1042.3 1021.3,1040.8 1021.8,1037.5 1022.3,1034.2 1022.8,1030.9 1023.3,1027.5 1023.8,1022.9 1024.3,1018.3 1024.8,1016.0 1025.3,1020.3 1025.8,1024.7 1026.3,1029.1 1026.8,1033.3 1027.3,1037.2 1027.8,1041.1 1028.3,1044.9 1028.8,1048.8 1029.3,1052.2 1029.8,1055.7 1030.3,1059.2 1030.8,1062.6 1031.3,1068.2 1031.8,1075.2 1032.3,1082.2 1032.8,1089.2 1033.3,1096.2 1033.8,1103.2 1034.3,1110.2 1034.8,1115.4 1035.3,1120.3 1035.8,1122.9 1036.3,1123.9 1036.8,1124.9 1037.3,1125.9 1037.8,1126.9 1038.3,1128.3 1038.8,1130.0 1039.3,1131.7 1039.8,1133.3 1040.3,1135.0 1040.8,1136.5 1041.3,1137.8 1041.8,1139.1 1042.3,1140.5 1042.8,1141.8 1043.3,1142.8 1043.8,1143.7 1044.3,1144.5 1044.8,1145.3 1045.3,1146.2 1045.8,1146.8 1046.3,1147.3 1046.8,1147.8 1047.3,1148.3 1047.8,1148.8 1048.3,1149.3 1048.8,1149.8 1049.3,1150.3 1049.8,1151.0 1050.3,1152.1 1050.8,1153.3 1051.3,1154.5 1051.8,1155.6 1052.3,1156.9 1052.8,1158.4 1053.3,1159.8 1053.8,1161.3 1054.3,1162.8 1054.8,1164.2 1055.3,1164.7 1055.8,1164.4 1056.3,1164.1 1056.8,1163.8 1057.3,1163.6 1057.8,1163.3 1058.3,1163.3 1058.8,1163.6 1059.3,1163.8 1059.8,1164.1 1060.3,1164.4 1060.8,1164.6 1061.3,1164.9 1061.8,1165.1 1062.3,1165.4 1062.8,1165.7 1063.3,1166.0 1063.8,1166.2 1064.3,1166.5 1064.8,1166.8 1065.3,1167.1 1065.8,1167.4 1066.3,1167.7 1066.8,1167.9 1067.3,1168.2 1067.8,1168.4 1068.3,1168.6 1068.8,1168.9 1069.3,1169.1 1069.8,1169.1 1070.3,1168.0 1070.8,1166.9 1071.3,1165.9 1071.8,1164.8 1072.3,1163.8 1072.8,1163.1 1073.3,1162.3 1073.8,1161.6 1074.3,1160.8 1074.8,1160.1 1075.3,1159.3 1075.8,1156.0 1076.3,1151.0 1076.8,1146.0 1077.3,1140.6 1077.8,1134.1 1078.3,1127.6 1078.8,1121.1 1079.3,1114.1 1079.8,1107.1 1080.3,1100.1 1080.8,1093.1 1081.3,1086.2 1081.8,1079.2 1082.3,1072.7 1082.8,1067.7 1083.3,1062.7 1083.8,1057.7 1084.3,1054.5 1084.8,1052.5 1085.3,1050.5 1085.8,1048.5 1086.3,1046.5 1086.8,1043.7 1087.3,1040.3 1087.8,1037.0 1088.3,1033.7 1088.8,1030.3 1089.3,1026.3 1089.8,1021.7 1090.3,1017.1 1090.8,1015.9 1091.3,1016.9 1091.8,1017.9 1092.3,1018.9 1092.8,1019.9 1093.3,1020.5 1093.8,1019.8 1094.3,1019.2 1094.8,1018.5 1095.3,1017.8 1095.8,1018.3 1096.3,1022.8 1096.8,1028.3 1097.3,1033.7 1097.8,1038.7 1098.3,1043.7 1098.8,1048.7 1099.3,1053.7 1099.8,1062.2 1100.3,1070.9 1100.8,1079.1 1101.3,1085.7 1101.8,1092.4 1102.3,1099.1 1102.8,1105.4 1103.3,1111.0 1103.8,1116.5 1104.3,1122.0 1104.8,1125.6 1105.3,1129.0 1105.8,1132.5 1106.3,1135.9 1106.8,1138.1 1107.3,1139.5 1107.8,1140.8 1108.3,1142.1 1108.8,1143.5 1109.3,1144.5 1109.8,1145.3 1110.3,1146.1 1110.8,1146.9 1111.3,1147.7 1111.8,1148.4 1112.3,1149.2 1112.8,1149.4 1113.3,1147.9 1113.8,1146.4 1114.3,1144.9 1114.8,1143.3 1115.3,1141.8 1115.8,1140.3 1116.3,1138.9 1116.8,1137.6 1117.3,1136.2 1117.8,1134.8 1118.3,1133.4 1118.8,1132.1 1119.3,1133.1 1119.8,1135.8 1120.3,1138.5 1120.8,1141.2 1121.3,1144.0 1121.8,1146.8 1122.3,1149.6 1122.8,1152.4 1123.3,1155.3 1123.8,1157.8 1124.3,1159.4 1124.8,1161.0 1125.3,1162.6 1125.8,1164.2 1126.3,1165.9 1126.8,1165.2 1127.3,1163.0 1127.8,1160.9 1128.3,1158.7 1128.8,1156.5 1129.3,1154.5 1129.8,1152.5 1130.3,1150.5 1130.8,1148.5 1131.3,1146.5 1131.8,1144.5 1132.3,1142.5 1132.8,1141.6 1133.3,1140.8 1133.8,1140.0 1134.3,1139.2 1134.8,1138.4 1135.3,1137.6 1135.8,1136.8 1136.3,1138.4 1136.8,1141.7 1137.3,1144.9 1137.8,1148.6 1138.3,1153.3 1138.8,1158.0 1139.3,1159.8 1139.8,1159.8 1140.3,1159.8 1140.8,1159.8 1141.3,1159.8 1141.8,1155.8 1142.3,1149.0 1142.8,1140.7 1143.3,1128.2 1143.8,1115.7 1144.3,1104.4 1144.8,1093.9 1145.3,1083.4 1145.8,1074.2 1146.3,1068.7 1146.8,1063.2 1147.3,1057.7 1147.8,1054.3 1148.3,1051.0 1148.8,1047.8 1149.3,1046.3 1149.8,1046.0 1150.3,1045.6 1150.8,1045.3 1151.3,1045.0 1151.8,1044.4 1152.3,1043.6 1152.8,1042.9 1153.3,1042.1 1153.8,1041.4 1154.3,1040.6 1154.8,1039.9 1155.3,1039.1 1155.8,1038.3 1156.3,1037.5 1156.8,1036.7 1157.3,1035.9 1157.8,1035.1 1158.3,1034.3 1158.8,1033.5 1159.3,1033.3 1159.8,1033.6 1160.3,1033.9 1160.8,1034.2 1161.3,1034.4 1161.8,1034.7 1162.3,1036.2 1162.8,1038.4 1163.3,1040.7 1163.8,1042.7 1164.3,1044.2 1164.8,1045.7 1165.3,1047.2 1165.8,1047.2 1166.3,1047.0 1166.8,1046.8 1167.3,1046.6 1167.8,1046.4 1168.3,1046.3 1168.8,1046.1 1169.3,1046.2 1169.8,1046.4 1170.3,1046.7 1170.8,1047.0 1171.3,1047.2 1171.8,1046.9 1172.3,1046.1 1172.8,1045.4 1173.3,1044.6 1173.8,1043.8 1174.3,1043.1 1174.8,1042.3 1175.3,1041.5 1175.8,1047.2 1176.3,1053.2 1176.8,1060.8 1177.3,1069.2 1177.8,1077.7 1178.3,1084.9 1178.8,1088.2 1179.3,1091.5 1179.8,1094.9 1180.3,1098.2 1180.8,1101.3 1181.3,1103.6 1181.8,1105.9 1182.3,1108.3 1182.8,1110.6 1183.3,1112.4 1183.8,1112.8 1184.3,1113.1 1184.8,1113.4 1185.3,1113.8 1185.8,1114.4 1186.3,1115.9 1186.8,1117.5 1187.3,1119.0 1187.8,1120.5 1188.3,1122.0 1188.8,1122.8 1189.3,1121.5 1189.8,1120.2 1190.3,1118.9 1190.8,1117.5 1191.3,1116.2 1191.8,1115.1 1192.3,1114.3 1192.8,1113.4 1193.3,1112.5 1193.8,1111.6 1194.3,1110.8 1194.8,1109.9 1195.3,1109.1 1195.8,1108.4 1196.3,1107.6 1196.8,1106.9 1197.3,1106.1 1197.8,1105.4 1198.3,1104.8 1198.8,1104.5 1199.3,1104.3 1199.8,1104.0 1200.3,1103.8 1200.8,1103.5 1201.3,1103.3 1201.8,1103.2 1202.3,1103.2 1202.8,1103.2 1203.3,1103.2 1203.8,1103.2 1204.3,1103.2 1204.8,1103.2 1205.3,1103.2 1205.8,1103.2 1206.3,1103.2 1206.8,1103.2 1207.3,1103.2 1207.8,1097.6 1208.3,1091.7 1208.8,1086.0 1209.3,1081.0 1209.8,1076.0 1210.3,1071.0 1210.8,1068.1 1211.3,1065.3 1211.8,1062.6 1212.3,1061.1 1212.8,1060.3 1213.3,1059.6 1213.8,1058.8 1214.3,1058.1 1214.8,1057.4 1215.3,1057.1 1215.8,1056.9 1216.3,1056.7 1216.8,1056.5 1217.3,1056.3 1217.8,1056.0 1218.3,1055.8 1218.8,1055.6 1219.3,1055.2 1219.8,1054.9 1220.3,1054.5 1220.8,1054.1 1221.3,1054.1 1221.8,1054.1 1222.3,1054.2 1222.8,1054.3 1223.3,1054.4 1223.8,1054.5 1224.3,1054.6 1224.8,1054.7 1225.3,1054.8 1225.8,1054.8 1226.3,1054.7 1226.8,1054.6 1227.3,1054.5 1227.8,1054.4 1228.3,1054.3 1228.8,1054.2 1229.3,1054.1 1229.8,1054.0 1230.3,1054.9 1230.8,1055.9 1231.3,1056.9 1231.8,1057.9 1232.3,1058.9 1232.8,1059.9 1233.3,1060.6 1233.8,1060.1 1234.3,1059.7 1234.8,1059.2 1235.3,1058.8 1235.8,1058.3 1236.3,1058.0 1236.8,1059.2 1237.3,1060.3 1237.8,1061.5 1238.3,1062.3 1238.8,1062.3 1239.3,1062.3 1239.8,1062.3 1240.3,1062.3 1240.8,1062.3 1241.3,1061.7 1241.8,1060.6 1242.3,1059.5 1242.8,1058.4 1243.3,1057.3 1243.8,1057.2 1244.3,1060.0 1244.8,1062.7 1245.3,1065.5 1245.8,1069.6 1246.3,1073.8 1246.8,1077.9 1247.3,1082.1 1247.8,1086.6 1248.3,1091.2 1248.8,1095.8 1249.3,1100.4 1249.8,1104.6 1250.3,1108.9 1250.8,1113.1 1251.3,1117.3 1251.8,1120.9 1252.3,1124.2 1252.8,1127.4 1253.3,1129.7 1253.8,1129.1 1254.3,1128.5 1254.8,1127.9 1255.3,1127.3 1255.8,1126.7 1256.3,1126.1 1256.8,1125.5 1257.3,1124.9 1257.8,1125.4 1258.3,1126.0 1258.8,1126.7 1259.3,1127.3 1259.8,1127.9 1260.3,1128.5 1260.8,1129.1 1261.3,1129.6 1261.8,1130.1 1262.3,1130.6 1262.8,1131.1 1263.3,1131.6 1263.8,1132.1 1264.3,1132.6 1264.8,1133.1 1265.3,1133.5 1265.8,1133.9 1266.3,1134.3 1266.8,1134.7 1267.3,1135.1 1267.8,1135.5 1268.3,1135.9 1268.8,1136.3 1269.3,1136.8 1269.8,1137.4 1270.3,1138.0 1270.8,1138.6 1271.3,1139.1 1271.8,1139.7 1272.3,1140.3 1272.8,1140.2 1273.3,1140.1 1273.8,1140.0 1274.3,1139.9 1274.8,1139.8 1275.3,1137.3 1275.8,1134.5 1276.3,1131.8 1276.8,1128.3 1277.3,1124.3 1277.8,1120.3 1278.3,1116.3 1278.8,1112.3 1279.3,1108.1 1279.8,1103.7 1280.3,1099.4 1280.8,1095.1 1281.3,1090.7 1281.8,1086.3 1282.3,1081.8 1282.8,1077.3 1283.3,1073.5 1283.8,1071.7 1284.3,1069.9 1284.8,1068.0 1285.3,1066.2 1285.8,1064.9 1286.3,1065.0 1286.8,1065.1 1287.3,1065.2 1287.8,1065.4 1288.3,1065.5 1288.8,1065.6 1289.3,1065.4 1289.8,1065.1 1290.3,1064.7 1290.8,1064.3 1291.3,1063.9 1291.8,1063.6 1292.3,1063.2 1292.8,1063.0 1293.3,1062.9 1293.8,1062.8 1294.3,1062.6 1294.8,1062.5 1295.3,1062.3 1295.8,1060.6 1296.3,1058.7 1296.8,1056.8 1297.3,1054.9 1297.8,1057.4 1298.3,1060.1 1298.8,1062.8 1299.3,1065.5 1299.8,1066.1 1300.3,1066.5 1300.8,1066.9 1301.3,1067.3 1301.8,1067.7 1302.3,1068.1 1302.8,1068.5 1303.3,1068.8 1303.8,1069.1 1304.3,1069.4 1304.8,1069.7 1305.3,1070.0 1305.8,1070.3 1306.3,1070.6 1306.8,1073.1 1307.3,1077.1 1307.8,1081.0 1308.3,1085.8 1308.8,1092.9 1309.3,1099.9 1309.8,1106.9 1310.3,1118.0 1310.8,1129.4 1311.3,1138.5 1311.8,1146.0 1312.3,1153.5 1312.8,1154.8 1313.3,1155.6 1313.8,1156.5 1314.3,1157.3 1314.8,1158.1 1315.3,1159.1 1315.8,1160.1 1316.3,1161.1 1316.8,1162.1 1317.3,1163.1 1317.8,1164.5 1318.3,1165.9 1318.8,1167.3 1319.3,1168.7 1319.8,1170.1 1320.3,1170.4 1320.8,1169.9 1321.3,1169.4 1321.8,1168.9 1322.3,1168.4 1322.8,1168.5 1323.3,1169.0 1323.8,1169.5 1324.3,1170.0 1324.8,1170.5 1325.3,1170.6 1325.8,1170.4 1326.3,1170.2 1326.8,1170.1 1327.3,1169.9 1327.8,1169.7 1328.3,1169.4 L1328.3,1248.9 L853.3,1248.9Z" fill="#82abde" />
<path d="M853.3,1169.2 857.2,1171.5 861.3,1167.3 864.7,1160.7 868.0,1149.0 871.3,1137.3 874.7,1124.0 878.0,1107.3 880.5,1092.3 882.2,1082.3 884.7,1072.3 887.2,1059.0 889.7,1064.0 892.2,1062.3 894.7,1077.3 897.2,1097.3 899.7,1115.7 902.2,1127.3 905.5,1138.2 908.8,1144.0 912.2,1146.5 914.7,1148.2 917.2,1152.3 919.3,1149.0 922.2,1153.2 924.7,1157.3 927.2,1154.0 929.7,1157.3 932.2,1156.5 936.3,1150.7 939.7,1139.0 942.2,1127.3 944.7,1110.7 947.2,1097.3 950.5,1100.7 953.8,1101.5 956.3,1097.3 959.7,1104.0 963.0,1108.2 966.3,1110.7 968.8,1122.3 971.3,1134.0 973.8,1141.5 977.2,1148.2 981.3,1149.8 983.8,1154.0 985.5,1158.2 987.2,1143.2 989.7,1132.3 993.0,1131.5 995.5,1133.2 997.2,1139.8 998.8,1148.2 1001.7,1150.7 1003.8,1134.0 1006.3,1125.7 1008.8,1117.3 1011.3,1114.0 1013.8,1110.7 1016.0,1100.7 1018.0,1089.0 1020.5,1104.0 1023.8,1094.0 1026.3,1102.3 1029.7,1114.0 1033.0,1125.7 1035.5,1134.0 1038.0,1139.8 1041.3,1138.2 1044.7,1146.5 1048.8,1150.7 1052.2,1156.5 1055.0,1164.8 1058.0,1164.0 1063.0,1167.3 1068.0,1169.0 1071.3,1167.3 1075.5,1159.0 1078.0,1142.3 1080.5,1117.3 1082.2,1105.7 1083.7,1100.7 1084.0,1099.0 1087.3,1094.8 1090.7,1089.0 1092.7,1085.7 1094.8,1097.3 1097.3,1110.7 1099.8,1125.7 1102.3,1135.7 1105.7,1144.0 1109.0,1149.0 1112.7,1152.3 1115.7,1150.7 1119.0,1157.3 1121.5,1159.0 1124.0,1164.8 1126.5,1168.2 1129.0,1163.2 1132.3,1158.2 1135.7,1162.3 1139.0,1165.7 1141.5,1162.3 1143.2,1145.7 1145.7,1129.0 1149.0,1117.3 1152.3,1114.0 1155.7,1109.8 1159.0,1108.2 1162.3,1112.3 1165.7,1116.5 1169.8,1115.7 1172.3,1116.5 1174.8,1114.0 1176.5,1122.3 1179.0,1134.0 1182.3,1139.0 1185.7,1145.7 1189.0,1155.7 1194.0,1169.0 1199.0,1172.3 1204.0,1173.2 1207.3,1172.3 1209.0,1159.0 1210.7,1142.3 1213.2,1129.0 1217.3,1124.8 1220.7,1124.0 1225.7,1126.5 1229.8,1124.8 1234.0,1131.5 1239.0,1133.2 1241.5,1132.3 1243.7,1128.2 1245.7,1140.7 1248.2,1152.3 1250.7,1159.0 1253.2,1164.0 1255.7,1162.3 1259.0,1170.7 1264.0,1176.5 1269.0,1177.3 1274.0,1181.5 1278.2,1176.5 1280.7,1164.0 1283.2,1147.3 1285.7,1134.8 1289.8,1133.2 1293.7,1134.0 1297.3,1129.0 1299.8,1135.7 1304.0,1139.0 1308.2,1142.3 1310.7,1152.3 1313.2,1159.0 1316.5,1164.0 1320.0,1169.8 1323.3,1171.5 1328.3,1173.2 L1328.3,1248.9 L853.3,1248.9Z" fill="#5f86ca" />
<path d="M853.3,1171.7 857.2,1174.0 861.3,1169.8 864.7,1163.2 868.0,1152.3 871.3,1140.7 874.7,1129.0 878.0,1119.0 881.3,1112.3 884.7,1108.2 887.2,1095.7 889.7,1094.8 892.7,1095.7 894.7,1110.7 896.3,1125.7 898.8,1130.7 901.3,1139.0 905.5,1144.8 908.8,1148.2 912.2,1149.0 914.7,1152.3 917.2,1159.0 919.7,1152.3 922.2,1159.8 924.7,1163.2 927.2,1159.0 929.7,1160.7 933.0,1159.0 936.3,1154.0 939.7,1145.7 943.0,1139.0 946.3,1127.3 949.7,1132.3 954.7,1134.8 959.7,1137.3 964.7,1141.5 969.7,1146.5 974.7,1150.7 979.7,1153.2 983.0,1155.7 985.0,1160.7 987.2,1152.3 991.3,1152.3 995.5,1151.5 998.8,1154.0 1001.7,1155.7 1003.8,1142.3 1006.3,1132.3 1009.7,1125.7 1013.0,1130.7 1015.5,1125.7 1018.0,1121.5 1021.3,1127.3 1024.7,1132.3 1028.0,1137.3 1031.3,1144.0 1034.7,1148.2 1038.8,1147.3 1043.0,1150.7 1048.0,1154.8 1051.3,1159.0 1054.7,1165.7 1058.0,1169.0 1063.0,1171.5 1068.0,1169.8 1072.2,1170.7 1075.5,1164.0 1078.0,1145.7 1080.5,1134.0 1083.7,1124.0 1084.0,1123.2 1088.2,1119.8 1091.5,1119.0 1094.0,1124.0 1096.5,1134.0 1099.0,1144.0 1102.3,1152.3 1105.7,1155.7 1109.0,1157.3 1113.2,1163.2 1115.7,1160.7 1118.2,1157.3 1120.7,1163.2 1124.0,1167.3 1126.5,1171.5 1128.7,1165.7 1131.0,1169.8 1133.2,1163.2 1134.8,1167.3 1137.0,1162.3 1139.0,1169.0 1141.5,1164.8 1143.2,1152.3 1146.5,1145.7 1150.7,1142.3 1155.7,1140.7 1160.7,1143.2 1165.7,1148.2 1170.7,1144.8 1174.8,1147.3 1179.0,1152.3 1184.0,1158.2 1189.0,1164.8 1194.0,1171.5 1199.0,1174.0 1204.0,1174.8 1207.3,1173.2 1210.7,1165.7 1214.8,1159.0 1219.0,1154.8 1222.3,1154.0 1227.3,1156.5 1232.3,1160.7 1237.3,1163.2 1241.5,1160.7 1244.8,1162.3 1249.0,1167.3 1252.3,1166.5 1255.7,1170.7 1260.7,1174.8 1265.7,1178.2 1270.7,1179.0 1274.8,1183.2 1278.2,1177.3 1281.5,1169.0 1284.0,1164.8 1286.5,1162.3 1290.7,1163.2 1294.0,1160.7 1297.3,1164.0 1300.7,1165.7 1305.7,1166.5 1309.0,1164.0 1314.0,1167.3 1320.0,1170.7 1323.3,1172.3 1328.3,1174.0 L1328.3,1248.9 L853.3,1248.9Z" fill="#a3c7ed" />
<path d="M853.3,1177.1 853.8,1177.1 854.3,1177.2 854.8,1177.2 855.3,1177.3 855.8,1177.4 856.3,1177.4 856.8,1177.5 857.3,1177.4 857.8,1176.8 858.3,1176.3 858.8,1175.7 859.3,1175.1 859.8,1174.6 860.3,1174.0 860.8,1173.5 861.3,1172.9 861.8,1172.0 862.3,1171.2 862.8,1170.3 863.3,1169.4 863.8,1168.6 864.3,1167.7 864.8,1166.7 865.3,1165.6 865.8,1164.5 866.3,1163.4 866.8,1162.2 867.3,1161.1 867.8,1160.0 868.3,1159.1 868.8,1158.3 869.3,1157.5 869.8,1156.7 870.3,1155.9 870.8,1155.1 871.3,1154.3 871.8,1153.5 872.3,1152.7 872.8,1152.2 873.3,1151.3 873.8,1150.0 874.3,1148.8 874.8,1147.2 875.3,1144.7 875.8,1142.2 876.3,1139.7 876.8,1137.2 877.3,1134.7 877.8,1132.2 878.3,1130.7 878.8,1129.8 879.3,1128.9 879.8,1128.0 880.3,1127.1 880.8,1126.2 881.3,1125.3 881.8,1124.4 882.3,1123.7 882.8,1123.5 883.3,1123.3 883.8,1123.1 884.3,1122.9 884.8,1120.4 885.3,1117.7 885.8,1115.1 886.3,1112.5 886.8,1109.8 887.3,1107.9 887.8,1107.8 888.3,1107.7 888.8,1107.6 889.3,1107.5 889.8,1107.5 890.3,1107.4 890.8,1107.3 891.3,1107.2 891.8,1107.2 892.3,1107.1 892.8,1107.8 893.3,1111.0 893.8,1114.1 894.3,1117.2 894.8,1121.0 895.3,1126.8 895.8,1132.6 896.3,1138.4 896.8,1138.2 897.3,1137.7 897.8,1137.2 898.3,1136.7 898.8,1136.2 899.3,1138.7 899.8,1141.4 900.3,1144.1 900.8,1146.8 901.3,1148.0 901.8,1148.3 902.3,1148.6 902.8,1148.9 903.3,1149.2 903.8,1149.5 904.3,1149.1 904.8,1148.6 905.3,1148.1 905.8,1147.6 906.3,1147.1 906.8,1148.0 907.3,1149.0 907.8,1150.0 908.3,1151.0 908.8,1152.0 909.3,1151.9 909.8,1151.7 910.3,1151.5 910.8,1151.4 911.3,1151.2 911.8,1152.1 912.3,1153.1 912.8,1154.1 913.3,1155.1 913.8,1156.1 914.3,1157.8 914.8,1159.4 915.3,1161.1 915.8,1162.8 916.3,1164.4 916.8,1163.3 917.3,1161.9 917.8,1160.6 918.3,1159.3 918.8,1157.9 919.3,1158.8 919.8,1159.8 920.3,1160.8 920.8,1161.8 921.3,1162.8 921.8,1163.5 922.3,1164.2 922.8,1164.8 923.3,1165.5 923.8,1166.2 924.3,1166.5 924.8,1166.8 925.3,1167.2 925.8,1167.5 926.3,1167.8 926.8,1167.4 927.3,1166.9 927.8,1166.4 928.3,1165.9 928.8,1165.4 929.3,1165.5 929.8,1165.7 930.3,1165.9 930.8,1166.0 931.3,1166.2 931.8,1165.5 932.3,1164.7 932.8,1164.0 933.3,1163.3 933.8,1162.5 934.3,1161.8 934.8,1161.0 935.3,1160.3 935.8,1159.5 936.3,1158.8 936.8,1158.0 937.3,1157.3 937.8,1156.5 938.3,1155.8 938.8,1155.2 939.3,1154.6 939.8,1153.9 940.3,1153.3 940.8,1152.7 941.3,1152.1 941.8,1151.3 942.3,1150.6 942.8,1149.8 943.3,1149.1 943.8,1148.3 944.3,1147.6 944.8,1147.0 945.3,1146.7 945.8,1146.5 946.3,1146.2 946.8,1146.0 947.3,1145.7 947.8,1145.5 948.3,1145.4 948.8,1145.5 949.3,1145.6 949.8,1145.7 950.3,1145.8 950.8,1145.9 951.3,1146.0 951.8,1146.1 952.3,1146.2 952.8,1146.3 953.3,1146.4 953.8,1146.5 954.3,1146.6 954.8,1146.7 955.3,1146.8 955.8,1146.9 956.3,1147.0 956.8,1147.3 957.3,1147.7 957.8,1148.0 958.3,1148.3 958.8,1148.7 959.3,1149.0 959.8,1149.3 960.3,1149.7 960.8,1150.0 961.3,1150.3 961.8,1150.7 962.3,1151.0 962.8,1151.3 963.3,1151.7 963.8,1152.0 964.3,1152.3 964.8,1152.7 965.3,1153.0 965.8,1153.3 966.3,1153.7 966.8,1154.0 967.3,1154.3 967.8,1154.7 968.3,1155.0 968.8,1155.3 969.3,1155.7 969.8,1156.0 970.3,1156.3 970.8,1156.7 971.3,1157.0 971.8,1157.3 972.3,1157.7 972.8,1158.0 973.3,1158.3 973.8,1158.7 974.3,1159.0 974.8,1159.3 975.3,1159.7 975.8,1160.0 976.3,1160.3 976.8,1160.6 977.3,1160.9 977.8,1161.1 978.3,1161.4 978.8,1161.6 979.3,1161.9 979.8,1162.1 980.3,1162.4 980.8,1162.6 981.3,1162.9 981.8,1163.3 982.3,1163.8 982.8,1164.3 983.3,1164.8 983.8,1165.3 984.3,1162.7 984.8,1160.7 985.3,1158.7 985.8,1156.7 986.3,1154.7 986.8,1154.8 987.3,1155.0 987.8,1155.3 988.3,1155.5 988.8,1155.8 989.3,1156.0 989.8,1156.2 990.3,1156.3 990.8,1156.4 991.3,1156.5 991.8,1156.6 992.3,1156.6 992.8,1156.7 993.3,1156.8 993.8,1156.9 994.3,1157.0 994.8,1157.1 995.3,1157.4 995.8,1157.7 996.3,1158.0 996.8,1158.3 997.3,1158.6 997.8,1158.9 998.3,1159.2 998.8,1159.5 999.3,1159.7 999.8,1159.9 1000.3,1160.0 1000.8,1160.2 1001.3,1160.4 1001.8,1158.3 1002.3,1156.2 1002.8,1154.0 1003.3,1151.8 1003.8,1149.7 1004.3,1148.0 1004.8,1146.3 1005.3,1144.6 1005.8,1143.0 1006.3,1141.3 1006.8,1140.4 1007.3,1139.6 1007.8,1138.7 1008.3,1137.9 1008.8,1137.1 1009.3,1138.1 1009.8,1139.2 1010.3,1140.3 1010.8,1141.5 1011.3,1142.6 1011.8,1143.7 1012.3,1144.3 1012.8,1143.3 1013.3,1142.3 1013.8,1141.3 1014.3,1140.3 1014.8,1139.3 1015.3,1138.6 1015.8,1137.8 1016.3,1137.1 1016.8,1136.3 1017.3,1135.6 1017.8,1134.8 1018.3,1135.0 1018.8,1135.7 1019.3,1136.5 1019.8,1137.2 1020.3,1138.0 1020.8,1138.7 1021.3,1139.5 1021.8,1140.1 1022.3,1140.7 1022.8,1141.4 1023.3,1142.0 1023.8,1142.6 1024.3,1143.2 1024.8,1143.9 1025.3,1144.5 1025.8,1145.1 1026.3,1145.7 1026.8,1146.4 1027.3,1147.0 1027.8,1147.6 1028.3,1148.5 1028.8,1149.5 1029.3,1150.5 1029.8,1151.5 1030.3,1152.5 1030.8,1153.5 1031.3,1154.5 1031.8,1155.0 1032.3,1155.5 1032.8,1156.0 1033.3,1156.5 1033.8,1157.0 1034.3,1157.5 1034.8,1157.8 1035.3,1157.5 1035.8,1157.2 1036.3,1156.9 1036.8,1156.6 1037.3,1156.3 1037.8,1156.0 1038.3,1155.7 1038.8,1155.4 1039.3,1155.7 1039.8,1156.0 1040.3,1156.3 1040.8,1156.6 1041.3,1156.9 1041.8,1157.2 1042.3,1157.5 1042.8,1157.8 1043.3,1158.1 1043.8,1158.4 1044.3,1158.7 1044.8,1159.1 1045.3,1159.4 1045.8,1159.7 1046.3,1160.1 1046.8,1160.4 1047.3,1160.7 1047.8,1161.1 1048.3,1161.4 1048.8,1161.8 1049.3,1162.2 1049.8,1162.6 1050.3,1162.9 1050.8,1163.3 1051.3,1163.7 1051.8,1164.6 1052.3,1165.6 1052.8,1166.6 1053.3,1167.6 1053.8,1168.6 1054.3,1169.6 1054.8,1170.5 1055.3,1171.0 1055.8,1171.5 1056.3,1172.0 1056.8,1172.5 1057.3,1173.0 1057.8,1173.5 1058.3,1173.8 1058.8,1174.0 1059.3,1174.1 1059.8,1174.3 1060.3,1174.5 1060.8,1174.6 1061.3,1174.8 1061.8,1175.0 1062.3,1175.1 1062.8,1175.3 1063.3,1175.3 1063.8,1175.2 1064.3,1175.2 1064.8,1175.1 1065.3,1175.0 1065.8,1174.9 1066.3,1174.8 1066.8,1174.7 1067.3,1174.6 1067.8,1174.6 1068.3,1174.5 1068.8,1174.5 1069.3,1174.5 1069.8,1174.5 1070.3,1174.5 1070.8,1174.5 1071.3,1174.5 1071.8,1174.5 1072.3,1174.4 1072.8,1174.0 1073.3,1173.6 1073.8,1173.2 1074.3,1172.8 1074.8,1172.4 1075.3,1172.0 1075.8,1171.6 1076.3,1171.2 1076.8,1170.6 1077.3,1167.8 1077.8,1161.3 1078.3,1154.8 1078.8,1148.3 1079.3,1146.3 1079.8,1144.6 1080.3,1143.0 1080.8,1141.3 1081.3,1139.6 1081.8,1139.0 1082.3,1138.5 1082.8,1138.0 1083.3,1137.4 1083.8,1137.0 1084.3,1136.7 1084.8,1136.1 1085.3,1135.5 1085.8,1134.9 1086.3,1134.3 1086.8,1133.7 1087.3,1133.1 1087.8,1132.5 1088.3,1132.0 1088.8,1131.9 1089.3,1131.7 1089.8,1131.6 1090.3,1131.5 1090.8,1131.4 1091.3,1131.2 1091.8,1131.7 1092.3,1132.6 1092.8,1133.5 1093.3,1134.4 1093.8,1135.2 1094.3,1136.1 1094.8,1137.0 1095.3,1138.8 1095.8,1140.6 1096.3,1142.4 1096.8,1144.3 1097.3,1146.1 1097.8,1148.1 1098.3,1150.1 1098.8,1152.1 1099.3,1154.1 1099.8,1156.1 1100.3,1157.1 1100.8,1158.1 1101.3,1159.1 1101.8,1160.1 1102.3,1161.1 1102.8,1161.3 1103.3,1161.4 1103.8,1161.6 1104.3,1161.7 1104.8,1161.8 1105.3,1161.9 1105.8,1162.1 1106.3,1162.3 1106.8,1162.6 1107.3,1162.8 1107.8,1163.1 1108.3,1163.3 1108.8,1163.6 1109.3,1164.0 1109.8,1164.4 1110.3,1164.8 1110.8,1165.2 1111.3,1165.6 1111.8,1166.0 1112.3,1166.5 1112.8,1166.9 1113.3,1167.3 1113.8,1167.7 1114.3,1167.5 1114.8,1166.8 1115.3,1166.1 1115.8,1165.5 1116.3,1164.8 1116.8,1164.3 1117.3,1164.0 1117.8,1163.7 1118.3,1163.3 1118.8,1163.0 1119.3,1163.7 1119.8,1165.0 1120.3,1166.3 1120.8,1167.7 1121.3,1169.0 1121.8,1169.9 1122.3,1170.6 1122.8,1171.3 1123.3,1171.9 1123.8,1172.6 1124.3,1173.4 1124.8,1174.4 1125.3,1175.3 1125.8,1176.2 1126.3,1177.2 1126.8,1176.4 1127.3,1174.6 1127.8,1172.7 1128.3,1170.9 1128.8,1169.8 1129.3,1170.9 1129.8,1172.0 1130.3,1173.0 1130.8,1174.1 1131.3,1173.6 1131.8,1172.1 1132.3,1170.5 1132.8,1169.0 1133.3,1168.3 1133.8,1169.8 1134.3,1171.3 1134.8,1172.8 1135.3,1171.8 1135.8,1170.6 1136.3,1169.5 1136.8,1168.3 1137.3,1169.1 1137.8,1171.2 1138.3,1173.3 1138.8,1175.4 1139.3,1175.8 1139.8,1175.1 1140.3,1174.5 1140.8,1173.8 1141.3,1173.1 1141.8,1171.6 1142.3,1169.5 1142.8,1169.1 1143.3,1167.5 1143.8,1166.1 1144.3,1164.8 1144.8,1163.4 1145.3,1162.0 1145.8,1160.6 1146.3,1159.3 1146.8,1158.5 1147.3,1158.2 1147.8,1157.9 1148.3,1157.6 1148.8,1157.3 1149.3,1157.0 1149.8,1156.7 1150.3,1156.4 1150.8,1156.1 1151.3,1155.8 1151.8,1155.4 1152.3,1155.1 1152.8,1154.8 1153.3,1154.4 1153.8,1154.1 1154.3,1153.8 1154.8,1153.4 1155.3,1153.1 1155.8,1153.0 1156.3,1153.3 1156.8,1153.7 1157.3,1154.1 1157.8,1154.5 1158.3,1154.8 1158.8,1155.2 1159.3,1155.6 1159.8,1156.0 1160.3,1156.3 1160.8,1156.7 1161.3,1157.1 1161.8,1157.5 1162.3,1157.8 1162.8,1158.2 1163.3,1158.6 1163.8,1159.0 1164.3,1159.4 1164.8,1159.8 1165.3,1160.2 1165.8,1160.6 1166.3,1161.0 1166.8,1161.1 1167.3,1161.0 1167.8,1160.9 1168.3,1160.8 1168.8,1160.7 1169.3,1160.6 1169.8,1160.5 1170.3,1160.4 1170.8,1160.4 1171.3,1160.3 1171.8,1160.2 1172.3,1160.2 1172.8,1160.1 1173.3,1160.1 1173.8,1160.0 1174.3,1159.9 1174.8,1159.9 1175.3,1160.2 1175.8,1160.6 1176.3,1160.9 1176.8,1161.3 1177.3,1161.6 1177.8,1162.0 1178.3,1162.4 1178.8,1162.7 1179.3,1163.1 1179.8,1163.5 1180.3,1164.0 1180.8,1164.4 1181.3,1164.8 1181.8,1165.2 1182.3,1165.6 1182.8,1166.0 1183.3,1166.4 1183.8,1166.9 1184.3,1167.2 1184.8,1167.6 1185.3,1167.9 1185.8,1168.2 1186.3,1168.6 1186.8,1168.9 1187.3,1169.2 1187.8,1169.6 1188.3,1169.9 1188.8,1170.2 1189.3,1170.6 1189.8,1171.0 1190.3,1171.5 1190.8,1171.9 1191.3,1172.3 1191.8,1172.7 1192.3,1173.1 1192.8,1173.5 1193.3,1173.9 1193.8,1174.4 1194.3,1174.6 1194.8,1174.8 1195.3,1175.0 1195.8,1175.2 1196.3,1175.5 1196.8,1175.6 1197.3,1175.8 1197.8,1176.0 1198.3,1176.2 1198.8,1176.5 1199.3,1176.6 1199.8,1176.7 1200.3,1176.8 1200.8,1176.9 1201.3,1177.0 1201.8,1177.1 1202.3,1177.2 1202.8,1177.3 1203.3,1177.4 1203.8,1177.5 1204.3,1177.4 1204.8,1177.3 1205.3,1177.1 1205.8,1177.0 1206.3,1176.8 1206.8,1176.6 1207.3,1176.5 1207.8,1176.3 1208.3,1176.0 1208.8,1175.4 1209.3,1174.8 1209.8,1174.2 1210.3,1173.6 1210.8,1173.0 1211.3,1172.4 1211.8,1171.8 1212.3,1171.2 1212.8,1170.7 1213.3,1170.1 1213.8,1169.5 1214.3,1168.9 1214.8,1168.3 1215.3,1167.7 1215.8,1167.2 1216.3,1166.6 1216.8,1166.0 1217.3,1165.4 1217.8,1165.2 1218.3,1165.0 1218.8,1164.8 1219.3,1164.6 1219.8,1164.4 1220.3,1164.2 1220.8,1164.0 1221.3,1163.8 1221.8,1163.8 1222.3,1163.9 1222.8,1164.0 1223.3,1164.1 1223.8,1164.2 1224.3,1164.3 1224.8,1164.4 1225.3,1164.5 1225.8,1164.6 1226.3,1165.1 1226.8,1165.5 1227.3,1165.9 1227.8,1166.3 1228.3,1166.7 1228.8,1167.1 1229.3,1167.6 1229.8,1168.0 1230.3,1168.4 1230.8,1168.8 1231.3,1169.0 1231.8,1169.3 1232.3,1169.5 1232.8,1169.8 1233.3,1170.0 1233.8,1170.3 1234.3,1170.5 1234.8,1170.8 1235.3,1171.0 1235.8,1171.2 1236.3,1171.3 1236.8,1171.4 1237.3,1171.5 1237.8,1171.6 1238.3,1171.6 1238.8,1171.7 1239.3,1171.8 1239.8,1171.9 1240.3,1172.0 1240.8,1172.0 1241.3,1171.9 1241.8,1171.7 1242.3,1171.6 1242.8,1171.5 1243.3,1171.4 1243.8,1171.2 1244.3,1171.4 1244.8,1171.7 1245.3,1172.0 1245.8,1172.3 1246.3,1172.6 1246.8,1172.9 1247.3,1173.2 1247.8,1173.5 1248.3,1173.8 1248.8,1174.1 1249.3,1174.4 1249.8,1174.7 1250.3,1175.0 1250.8,1175.3 1251.3,1175.6 1251.8,1175.9 1252.3,1176.2 1252.8,1176.1 1253.3,1176.0 1253.8,1175.9 1254.3,1175.8 1254.8,1175.7 1255.3,1175.6 1255.8,1175.5 1256.3,1175.4 1256.8,1175.6 1257.3,1176.0 1257.8,1176.4 1258.3,1176.8 1258.8,1177.2 1259.3,1177.6 1259.8,1178.0 1260.3,1178.4 1260.8,1178.7 1261.3,1178.9 1261.8,1179.1 1262.3,1179.2 1262.8,1179.4 1263.3,1179.6 1263.8,1179.7 1264.3,1179.9 1264.8,1180.1 1265.3,1180.2 1265.8,1180.4 1266.3,1180.5 1266.8,1180.6 1267.3,1180.6 1267.8,1180.7 1268.3,1180.8 1268.8,1180.9 1269.3,1181.0 1269.8,1181.1 1270.3,1181.1 1270.8,1181.3 1271.3,1181.8 1271.8,1182.3 1272.3,1182.8 1272.8,1183.3 1273.3,1183.8 1273.8,1184.3 1274.3,1184.8 1274.8,1185.3 1275.3,1185.2 1275.8,1185.0 1276.3,1184.8 1276.8,1184.6 1277.3,1184.4 1277.8,1184.2 1278.3,1184.0 1278.8,1183.8 1279.3,1183.2 1279.8,1182.5 1280.3,1181.7 1280.8,1181.0 1281.3,1180.2 1281.8,1178.0 1282.3,1176.8 1282.8,1175.7 1283.3,1174.5 1283.8,1173.3 1284.3,1172.6 1284.8,1172.1 1285.3,1171.6 1285.8,1171.1 1286.3,1170.6 1286.8,1170.5 1287.3,1170.8 1287.8,1171.0 1288.3,1171.6 1288.8,1171.5 1289.3,1171.3 1289.8,1171.2 1290.3,1171.0 1290.8,1170.8 1291.3,1170.6 1291.8,1170.3 1292.3,1170.1 1292.8,1169.9 1293.3,1169.7 1293.8,1169.6 1294.3,1170.1 1294.8,1170.6 1295.3,1171.0 1295.8,1171.5 1296.3,1171.9 1296.8,1172.4 1297.3,1172.8 1297.8,1173.2 1298.3,1173.6 1298.8,1174.0 1299.3,1174.3 1299.8,1174.7 1300.3,1175.1 1300.8,1175.4 1301.3,1175.6 1301.8,1175.7 1302.3,1175.9 1302.8,1176.1 1303.3,1176.2 1303.8,1176.4 1304.3,1176.6 1304.8,1176.7 1305.3,1176.9 1305.8,1177.0 1306.3,1177.0 1306.8,1176.9 1307.3,1176.8 1307.8,1176.8 1308.3,1176.7 1308.8,1176.6 1309.3,1176.6 1309.8,1176.5 1310.3,1176.5 1310.8,1176.4 1311.3,1176.3 1311.8,1176.3 1312.3,1176.2 1312.8,1176.2 1313.3,1176.2 1313.8,1176.1 1314.3,1176.1 1314.8,1176.1 1315.3,1176.1 1315.8,1176.1 1316.3,1176.0 1316.8,1176.0 1317.3,1176.0 1317.8,1176.0 1318.3,1175.9 1318.8,1175.9 1319.3,1175.9 1319.8,1175.9 1320.3,1175.7 1320.8,1175.5 1321.3,1175.2 1321.8,1175.0 1322.3,1174.7 1322.8,1174.5 1323.3,1174.2 1323.8,1174.4 1324.3,1174.7 1324.8,1174.9 1325.3,1175.1 1325.8,1175.4 1326.3,1175.6 1326.8,1175.8 1327.3,1176.1 1327.8,1176.3 1328.3,1176.5 L1328.3,1248.9 L853.3,1248.9Z" fill="#5f8560" />
<path d="M873.0,1154.8 874.7,1150.7 878.0,1134.0 882.2,1126.5 884.3,1125.7 887.2,1110.7 892.7,1109.8 894.7,1122.3 896.3,1141.5 898.8,1139.0 901.0,1150.7 903.8,1152.3 906.3,1149.8 908.8,1154.8 911.3,1154.0 913.8,1159.0 916.3,1167.3 918.8,1160.7 921.3,1165.7 923.8,1169.0 926.3,1170.7 928.8,1168.2 931.3,1169.0 934.7,1164.0 938.0,1159.0 941.3,1154.8 L941.3,1248.9 L873.0,1248.9Z" fill="#737c9f" />
<path d="M983.8,1167.3 986.3,1157.3 989.7,1159.0 994.7,1159.8 998.8,1162.3 1001.3,1163.2 1003.8,1152.3 1006.3,1144.0 1008.8,1139.8 1012.2,1147.3 1014.7,1142.3 1018.0,1137.3 1021.3,1142.3 1024.7,1146.5 1028.0,1150.7 1031.3,1157.3 1034.7,1160.7 L1034.7,1248.9 L983.8,1248.9Z" fill="#737c9f" />
<path d="M1077.2,1172.3 1078.8,1150.7 1081.3,1142.3 1083.7,1139.8 1084.0,1139.8 1088.2,1134.8 1091.5,1134.0 1094.8,1139.8 1097.3,1149.0 1099.8,1159.0 1102.3,1164.0 1105.7,1164.8 1109.0,1166.5 1114.0,1170.7 1116.5,1167.3 1119.0,1165.7 1121.5,1172.3 1124.0,1175.7 1126.5,1180.3 1128.7,1172.3 1131.0,1177.3 1133.2,1170.7 1134.8,1175.7 1137.0,1170.7 1139.0,1179.0 1141.5,1175.7 1142.7,1170.7 L1142.7,1248.9 L1077.2,1248.9Z" fill="#737c9f" />
<path d="M1281.5,1181.5 1284.0,1175.7 1286.5,1173.2 1288.2,1174.0 L1288.2,1248.9 L1281.5,1248.9Z" fill="#737c9f" />
<path d="M853.3,1179.9 857.2,1180.3 861.3,1175.7 864.7,1169.8 868.0,1162.3 872.2,1155.7 876.3,1151.5 880.5,1149.8 883.8,1146.5 888.0,1147.0 891.3,1149.0 896.3,1152.3 898.8,1154.0 901.3,1160.7 905.5,1161.5 908.8,1163.2 912.2,1165.7 914.7,1169.0 916.3,1173.2 918.8,1170.7 921.3,1174.0 924.7,1176.5 926.7,1180.7 928.8,1175.7 931.3,1172.3 934.7,1166.5 938.0,1160.7 941.3,1154.8 944.7,1149.8 948.0,1148.2 952.2,1149.0 956.3,1149.8 961.3,1153.2 966.3,1156.5 971.3,1159.8 976.3,1163.2 981.3,1165.7 983.8,1168.2 987.2,1172.3 989.7,1175.3 994.7,1175.3 998.8,1173.2 1001.3,1172.3 1003.8,1162.3 1006.3,1156.5 1009.7,1153.2 1013.0,1153.2 1016.3,1151.5 1018.8,1149.8 1023.0,1151.5 1027.2,1154.0 1031.3,1158.2 1034.7,1160.7 1038.8,1158.2 1043.0,1160.7 1048.0,1164.0 1051.3,1166.5 1054.7,1173.2 1058.0,1176.5 1063.0,1178.2 1068.0,1177.3 1072.2,1177.3 1076.3,1174.0 1078.8,1170.7 1081.3,1168.2 1083.7,1166.5 1084.0,1165.7 1089.0,1164.8 1093.2,1165.7 1096.5,1168.2 1100.7,1171.5 1105.7,1173.2 1110.7,1174.0 1115.7,1175.7 1119.0,1174.8 1122.3,1178.2 1126.5,1181.5 1132.3,1181.5 1138.2,1181.5 1140.7,1179.0 1143.2,1170.7 1146.5,1161.5 1150.7,1159.0 1155.7,1155.7 1159.0,1158.2 1162.3,1160.7 1166.5,1164.0 1170.7,1163.2 1174.8,1162.7 1179.0,1165.7 1184.0,1169.8 1189.0,1173.2 1194.0,1177.3 1199.0,1179.3 1204.0,1180.3 1208.2,1179.0 1212.3,1174.0 1217.3,1168.2 1221.5,1166.5 1225.7,1167.3 1230.7,1171.5 1235.7,1174.0 1240.7,1174.8 1244.0,1174.0 1248.2,1176.5 1252.3,1179.0 1256.5,1178.2 1260.7,1181.5 1265.7,1183.2 1270.7,1184.0 1274.8,1188.2 1279.0,1186.5 1282.3,1181.5 1284.8,1178.2 1286.5,1174.8 1289.8,1174.0 1293.7,1172.3 1297.3,1175.7 1300.7,1178.2 1305.7,1179.8 1312.3,1179.0 1320.0,1178.7 1323.3,1177.0 1328.3,1179.3 L1328.3,1248.9 L853.3,1248.9Z" fill="#ab8bb9" />
<path d="M853.3,1166.0 857.2,1169.8 860.5,1166.5 864.2,1164.3 866.3,1152.3 868.8,1140.7 871.3,1132.3 873.3,1125.7 875.5,1112.3 878.0,1097.3 880.5,1080.7 882.2,1054.0 883.3,1034.0 884.3,1026.0 885.5,993.3 887.2,967.5 889.7,972.5 891.7,983.3 893.8,1000.0 895.5,1020.7 897.2,1040.7 899.3,1060.7 900.5,1084.0 901.7,1104.0 903.8,1117.3 906.3,1129.0 908.8,1139.0 911.3,1143.7 913.8,1144.8 916.0,1146.0 917.7,1139.0 919.3,1130.7 921.3,1134.8 923.8,1141.5 926.7,1130.7 928.3,1142.3 930.0,1155.7 932.2,1155.7 934.7,1150.7 937.2,1144.0 939.3,1135.7 940.5,1117.3 941.7,1097.3 943.0,1074.0 944.7,1047.3 946.3,1024.0 949.7,1024.8 951.0,1000.7 952.7,975.0 955.5,965.8 958.0,975.0 960.0,993.3 962.2,1013.3 963.8,1026.0 965.5,1037.3 966.7,1057.3 968.0,1080.7 969.7,1104.0 971.7,1125.7 973.8,1139.0 976.3,1146.5 978.8,1149.0 982.2,1149.3 983.8,1154.0 985.0,1157.3 986.3,1144.0 987.7,1134.0 989.7,1131.5 992.7,1130.7 995.5,1132.3 997.2,1139.0 998.8,1148.2 1001.7,1149.8 1003.3,1132.3 1005.5,1122.3 1008.0,1110.7 1010.5,1097.3 1013.0,1082.3 1015.5,1062.3 1018.0,1050.7 1021.3,1040.7 1023.3,1027.3 1024.7,1014.8 1026.7,1032.3 1028.8,1049.0 1031.0,1064.0 1032.7,1087.3 1034.3,1110.7 1035.5,1122.3 1038.0,1127.3 1040.5,1135.7 1043.0,1142.3 1045.5,1146.5 1049.7,1150.7 1052.2,1156.5 1055.0,1164.8 1058.0,1163.2 1062.2,1165.3 1066.3,1167.7 1069.7,1169.3 1072.2,1164.0 1075.5,1159.0 1077.2,1142.3 1078.8,1120.7 1080.5,1097.3 1082.2,1074.0 1084.0,1055.7 1086.5,1045.7 1089.0,1029.0 1091.0,1010.7 1093.2,993.2 1095.3,1012.3 1097.3,1034.0 1099.3,1054.0 1100.7,1077.3 1102.7,1104.0 1104.3,1122.3 1106.5,1137.3 1109.0,1144.0 1112.7,1149.8 1115.7,1140.7 1119.0,1131.5 1121.0,1142.3 1123.7,1157.3 1126.5,1166.5 1129.0,1155.7 1132.3,1142.3 1136.0,1136.5 1137.7,1147.3 1139.0,1159.8 1141.5,1159.8 1142.7,1144.0 1144.0,1110.7 1145.7,1075.7 1147.3,1057.3 1149.0,1046.5 1151.5,1044.8 1154.8,1039.8 1159.0,1033.2 1162.0,1034.8 1163.7,1042.3 1165.3,1047.3 1169.0,1046.0 1171.5,1047.3 1175.3,1041.5 1176.5,1055.7 1178.2,1084.0 1180.7,1100.7 1183.2,1112.3 1185.7,1114.0 1188.7,1123.2 1191.5,1115.7 1194.8,1109.8 1198.2,1104.8 1201.5,1103.2 1207.3,1103.2 1208.7,1087.3 1210.3,1070.7 1212.0,1061.5 1214.8,1057.3 1218.7,1055.7 1221.0,1054.0 1223.2,1039.0 1225.3,1020.7 1227.3,1005.7 1230.2,1004.0 1232.0,1024.0 1234.0,1044.0 1236.0,1057.3 1238.2,1062.3 1241.0,1062.3 1243.7,1056.5 1245.3,1065.7 1247.3,1082.3 1249.3,1100.7 1251.5,1119.0 1253.2,1129.8 1257.3,1124.8 1260.7,1129.0 1264.8,1133.2 1269.0,1136.5 1272.3,1140.3 1274.8,1139.8 1276.5,1130.7 1279.0,1110.7 1281.5,1089.0 1283.2,1074.0 1285.7,1064.8 1289.0,1065.7 1292.3,1063.2 1295.3,1062.3 1297.3,1054.8 1299.3,1065.7 1302.3,1068.2 1306.5,1070.7 1308.2,1084.0 1309.8,1107.3 1311.0,1134.0 1312.3,1154.0 1314.8,1158.2 1317.3,1163.2 1320.0,1170.7 1322.5,1168.2 1325.0,1170.7 1327.5,1169.8 1328.3,1169.4" fill="none" stroke="#000" stroke-width="2.2" stroke-linejoin="round" stroke-linecap="round"/>
<rect x="851.8" y="838.7" width="478.0" height="410.20" fill="none" stroke="#fff" stroke-width="3.3"/>
<text x="834.2" y="846.7" font-size="21.2" text-anchor="end">300</text>
<text x="834.2" y="915.1" font-size="21.2" text-anchor="end">250</text>
<text x="834.2" y="983.4" font-size="21.2" text-anchor="end">200</text>
<text x="834.2" y="1051.8" font-size="21.2" textLength="31.2" lengthAdjust="spacingAndGlyphs" text-anchor="end">150</text>
<text x="834.2" y="1120.2" font-size="21.2" textLength="32.0" lengthAdjust="spacingAndGlyphs" text-anchor="end">100</text>
<text x="834.2" y="1188.5" font-size="21.2" text-anchor="end">50</text>
<text x="834.2" y="1256.9" font-size="21.2" text-anchor="end">0</text>
<text x="862.2" y="1255.7" font-size="22" textLength="60.5" lengthAdjust="spacingAndGlyphs" text-anchor="end" transform="rotate(-90 862.2 1255.7)">04.06.</text>
<text x="930.5" y="1255.7" font-size="22" textLength="60.5" lengthAdjust="spacingAndGlyphs" text-anchor="end" transform="rotate(-90 930.5 1255.7)">05.06.</text>
<text x="998.8" y="1255.7" font-size="22" textLength="60.5" lengthAdjust="spacingAndGlyphs" text-anchor="end" transform="rotate(-90 998.8 1255.7)">06.06.</text>
<text x="1067.1" y="1255.7" font-size="22" textLength="60.5" lengthAdjust="spacingAndGlyphs" text-anchor="end" transform="rotate(-90 1067.1 1255.7)">07.06.</text>
<text x="1135.3" y="1255.7" font-size="22" textLength="60.5" lengthAdjust="spacingAndGlyphs" text-anchor="end" transform="rotate(-90 1135.3 1255.7)">08.06.</text>
<text x="1203.6" y="1255.7" font-size="22" textLength="60.5" lengthAdjust="spacingAndGlyphs" text-anchor="end" transform="rotate(-90 1203.6 1255.7)">09.06.</text>
<text x="1271.9" y="1257.2" font-size="22" textLength="55.6" lengthAdjust="spacingAndGlyphs" text-anchor="end" transform="rotate(-90 1271.9 1257.2)">10.06.</text>
<text x="773.2" y="1083.1" font-size="20.5" textLength="79.6" lengthAdjust="spacingAndGlyphs" transform="rotate(-90 773.2 1083.1)">[GWh/h]</text>
<text x="26.0" y="49" font-size="26.7" textLength="433.5" lengthAdjust="spacingAndGlyphs">Flexibilität des Stromsystems 2050</text>
<text x="1228" y="49" font-size="26.7" textLength="162.5" lengthAdjust="spacingAndGlyphs">Abbildung 24</text>
<text x="24.6" y="1571.7" font-size="20.8" textLength="149" lengthAdjust="spacingAndGlyphs">Prognos (2020)</text>
<text x="277.4" y="143.6" font-size="24.2" textLength="299" lengthAdjust="spacingAndGlyphs" font-weight="bold" fill="#111">Erzeugung Winterwoche</text>
<text x="934" y="143.6" font-size="24.2" textLength="313" lengthAdjust="spacingAndGlyphs" font-weight="bold" fill="#111">Erzeugung Sommerwoche</text>
<text x="274.2" y="810.3" font-size="24.2" textLength="292.8" lengthAdjust="spacingAndGlyphs" font-weight="bold" fill="#111">Nachfrage Winterwoche</text>
<text x="932.8" y="810.3" font-size="24.2" textLength="315.2" lengthAdjust="spacingAndGlyphs" font-weight="bold" fill="#111">Nachfrage Sommerwoche</text>
<rect x="178.4" y="639.8" width="24.6" height="24.6" fill="#fff"/><rect x="179.6" y="641.0" width="22.2" height="22.2" fill="#9ab0cf"/>
<text x="220" y="659.5999999999999" font-size="20.8" textLength="111" lengthAdjust="spacingAndGlyphs">Wasserkraft</text>
<rect x="178.4" y="690.6" width="24.6" height="24.6" fill="#fff"/><rect x="179.6" y="691.8000000000001" width="22.2" height="22.2" fill="#82abde"/>
<text x="220" y="710.4" font-size="20.8" textLength="111" lengthAdjust="spacingAndGlyphs">Wasserstoff</text>
<rect x="408.4" y="639.8" width="24.6" height="24.6" fill="#fff"/><rect x="409.59999999999997" y="641.0" width="22.2" height="22.2" fill="#5f86ca"/>
<text x="450" y="659.5999999999999" font-size="20.8" textLength="133" lengthAdjust="spacingAndGlyphs">Wind Onshore</text>
<rect x="408.4" y="690.6" width="24.6" height="24.6" fill="#fff"/><rect x="409.59999999999997" y="691.8000000000001" width="22.2" height="22.2" fill="#4065a1"/>
<text x="450" y="710.4" font-size="20.8" textLength="134" lengthAdjust="spacingAndGlyphs">Wind Offshore</text>
<rect x="659" y="639.8" width="24.6" height="24.6" fill="#fff"/><rect x="660.2" y="641.0" width="22.2" height="22.2" fill="#f2de5e"/>
<text x="698.7" y="659.5999999999999" font-size="20.8" textLength="162.3" lengthAdjust="spacingAndGlyphs">PV ohne Batterie</text>
<rect x="659" y="690.6" width="24.6" height="24.6" fill="#fff"/><rect x="660.2" y="691.8000000000001" width="22.2" height="22.2" fill="#f2de5e"/><clipPath id="swc"><rect x="660.2" y="691.8000000000001" width="22.2" height="22.2"/></clipPath><path clip-path="url(#swc)" stroke="#fff" stroke-width="1.5" fill="none" d="M657.0,690.2L687.0,660.2M657.0,697.1L687.0,667.1M657.0,704.0L687.0,674.0M657.0,710.9L687.0,680.9M657.0,717.8L687.0,687.8M657.0,724.7L687.0,694.7M657.0,731.6L687.0,701.6M657.0,738.5L687.0,708.5M657.0,745.4L687.0,715.4"/>
<text x="698.7" y="710.4" font-size="20.8" textLength="201" lengthAdjust="spacingAndGlyphs">PV-Dach mit Batterie</text>
<rect x="938" y="639.8" width="24.6" height="24.6" fill="#fff"/><rect x="939.2" y="641.0" width="22.2" height="22.2" fill="#c8ccda"/>
<text x="977" y="659.5999999999999" font-size="20.8" textLength="64.5" lengthAdjust="spacingAndGlyphs">Import</text>
<rect x="938" y="690.6" width="24.6" height="24.6" fill="#fff"/><rect x="939.2" y="691.8000000000001" width="22.2" height="22.2" fill="#737c9f"/>
<text x="977" y="710.4" font-size="20.8" textLength="207" lengthAdjust="spacingAndGlyphs">PSW/Batteriespeicher</text>
<rect x="1230" y="690.6" width="24.6" height="24.6" fill="#fff"/><rect x="1231.2" y="691.8000000000001" width="22.2" height="22.2" fill="#5f8560"/>
<text x="1269.5" y="710.4" font-size="20.8" textLength="67.5" lengthAdjust="spacingAndGlyphs">Biogen</text>
<line x1="1116.7" x2="1153.4" y1="651" y2="651" stroke="#000" stroke-width="2.6"/>
<text x="1162.8" y="658.6" font-size="20.8" textLength="177" lengthAdjust="spacingAndGlyphs">Summe Verbrauch</text>
<rect x="183.7" y="1353.7" width="24.6" height="24.6" fill="#fff"/><rect x="184.89999999999998" y="1354.9" width="22.2" height="22.2" fill="#ab8bb9"/>
<text x="224" y="1373.5" font-size="20.8" textLength="191.4" lengthAdjust="spacingAndGlyphs">Nachfrage Inflexibel</text>
<rect x="183.7" y="1404.3" width="24.6" height="24.6" fill="#fff"/><rect x="184.89999999999998" y="1405.5" width="22.2" height="22.2" fill="#5f8560"/>
<text x="224" y="1424.1" font-size="20.8" textLength="129" lengthAdjust="spacingAndGlyphs">BECCS/DACCS</text>
<rect x="183.7" y="1455" width="24.6" height="24.6" fill="#fff"/><rect x="184.89999999999998" y="1456.2" width="22.2" height="22.2" fill="#737c9f"/>
<text x="224" y="1474.8" font-size="20.8" textLength="282" lengthAdjust="spacingAndGlyphs">Ladung PSW/Batteriespeicher</text>
<rect x="556" y="1350.3" width="24.6" height="24.6" fill="#fff"/><rect x="557.2" y="1351.5" width="22.2" height="22.2" fill="#a3c7ed"/>
<text x="597" y="1370.1" font-size="20.8" textLength="175" lengthAdjust="spacingAndGlyphs">E-Mobilität (inflex)</text>
<rect x="556" y="1401.2" width="24.6" height="24.6" fill="#fff"/><rect x="557.2" y="1402.4" width="22.2" height="22.2" fill="#5f86ca"/>
<text x="597" y="1421.0" font-size="20.8" textLength="156" lengthAdjust="spacingAndGlyphs">E-Mobilität (flex)</text>
<rect x="556" y="1452" width="24.6" height="24.6" fill="#fff"/><rect x="557.2" y="1453.2" width="22.2" height="22.2" fill="#82abde"/>
<text x="597" y="1471.8" font-size="20.8" textLength="102.6" lengthAdjust="spacingAndGlyphs">Elektrolyse</text>
<rect x="844.8" y="1350.3" width="24.6" height="24.6" fill="#fff"/><rect x="846.0" y="1351.5" width="22.2" height="22.2" fill="#723b93"/>
<text x="887" y="1370.1" font-size="20.8" textLength="146.5" lengthAdjust="spacingAndGlyphs">Wärmepumpen</text>
<rect x="844.8" y="1401.2" width="24.6" height="24.6" fill="#fff"/><rect x="846.0" y="1402.4" width="22.2" height="22.2" fill="#ffffff"/>
<text x="887" y="1421.0" font-size="20.8" textLength="104" lengthAdjust="spacingAndGlyphs">Abgeregelt</text>
<rect x="844.8" y="1452" width="24.6" height="24.6" fill="#fff"/><rect x="846.0" y="1453.2" width="22.2" height="22.2" fill="#c8ccda"/>
<text x="886.4" y="1471.8" font-size="20.8" textLength="61" lengthAdjust="spacingAndGlyphs">Export</text>
<line x1="1107.3" x2="1144" y1="1363.3" y2="1363.3" stroke="#000" stroke-width="2.6"/>
<text x="1153" y="1369.9" font-size="20.8" textLength="177.8" lengthAdjust="spacingAndGlyphs">Summe Verbrauch</text>
</svg>
</body></html>
